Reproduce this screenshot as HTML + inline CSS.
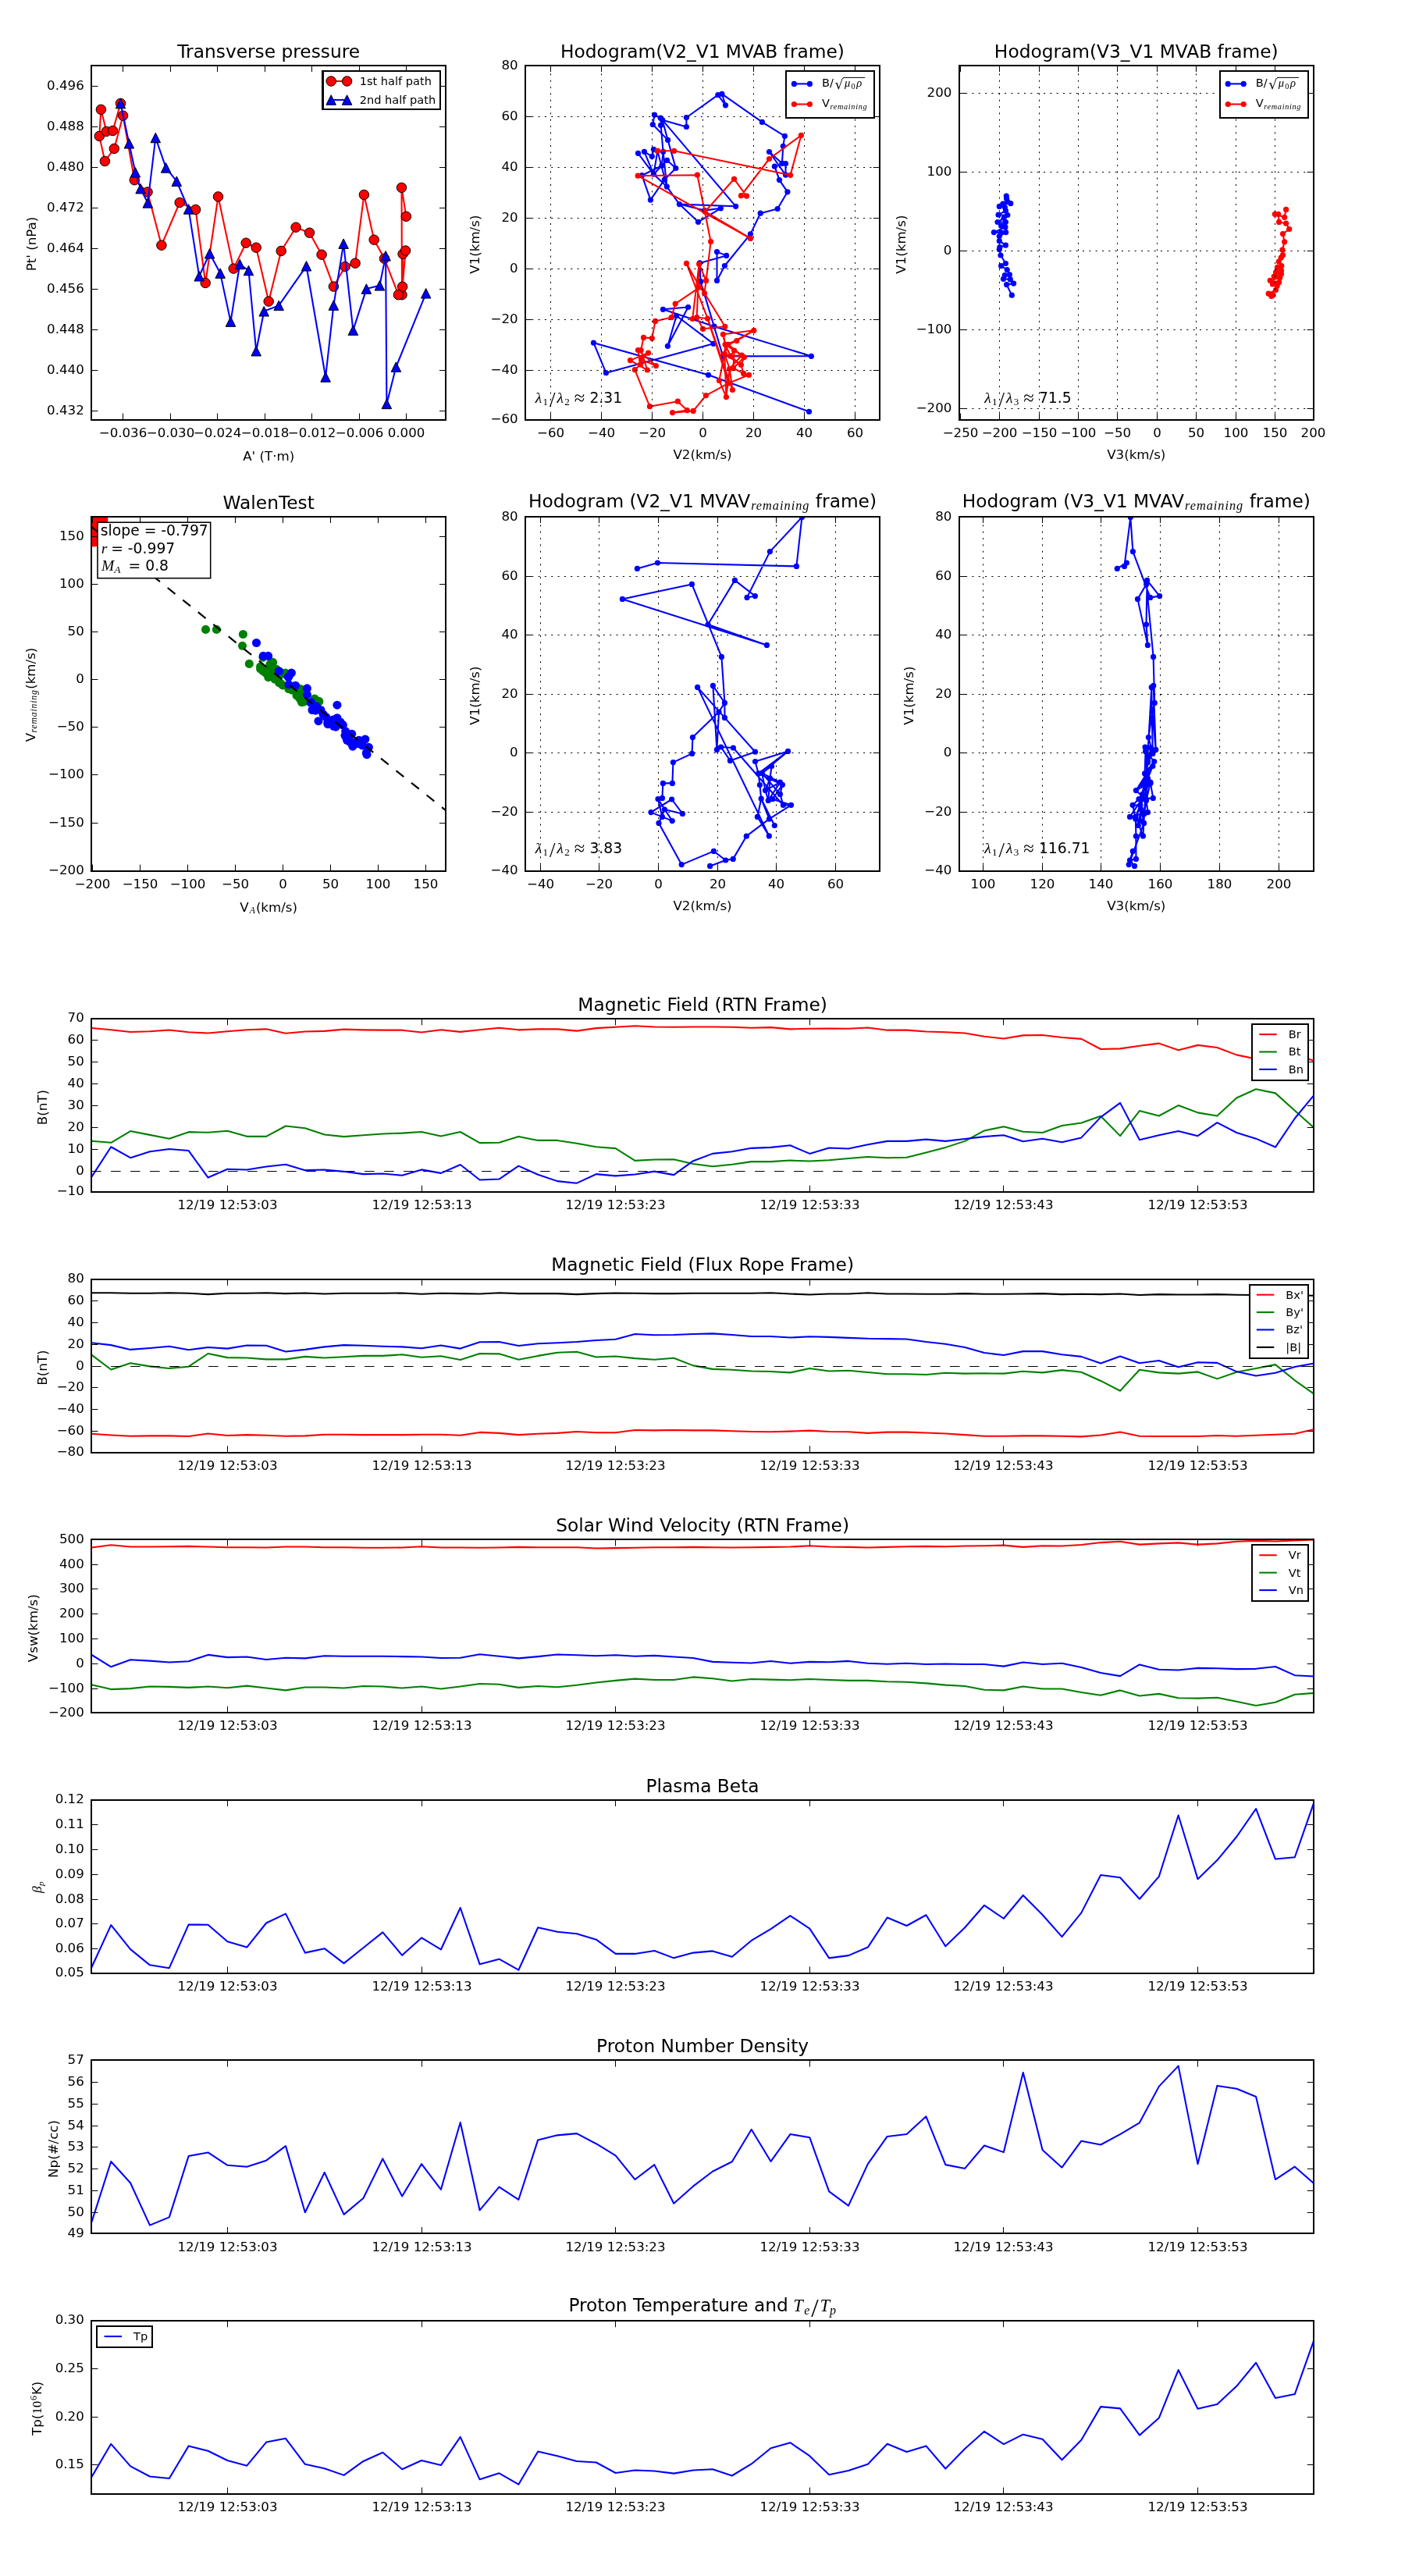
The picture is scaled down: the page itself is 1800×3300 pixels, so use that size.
<!DOCTYPE html>
<html><head><meta charset="utf-8"><title>Flux rope analysis</title>
<style>
html,body{margin:0;padding:0;background:#fff}
svg{display:block;will-change:transform}
text{font-family:"DejaVu Sans", "Liberation Sans", sans-serif;fill:#000}
.t{font-size:16.67px}
.l{font-size:14.58px}
.ti{font-size:23.3px}
.m{font-family:"Liberation Serif", "DejaVu Serif", serif;font-style:italic}
.mr{font-family:"Liberation Serif", "DejaVu Serif", serif;font-style:normal}
.gr{stroke:#000;stroke-width:1.0;stroke-dasharray:2.08 6.25;fill:none}
</style></head><body>
<svg xmlns="http://www.w3.org/2000/svg" width="1800" height="3300" viewBox="0 0 1800 3300">
<rect width="1800" height="3300" fill="#fff"/>
<clipPath id="c903"><rect x="117.1" y="83.85" width="454.2" height="454.05"/></clipPath>
<g clip-path="url(#c903)">
<path d="M520.4 277.3L514.5 240.4L515 377.7L516.1 325.3L519.6 321.1L515.6 367.3L510.4 377.7L492.5 331.3L479.2 307.2L466.4 249.5L455.1 337.2L442.1 341.5L427.4 367.1L412.1 326.2L396.5 298.2L379.1 291.2L360.2 321.5L344.2 386.1L328.2 317.2L315.2 311.2L299.2 344.1L279.5 251.9L263.2 362.5L250.6 268.5L230.2 259.5L206.9 314.2L189 246L172.3 230.7L157.6 148.2L146.3 190.4L134.4 206.5L127.3 174.4L129.4 140.3L136.4 168.4L144.5 167.5L154.5 132.4" fill="none" stroke="#ff0000" stroke-width="2.08" stroke-linejoin="round" />
<g fill="#ff0000" stroke="#000" stroke-width="1.0"><circle cx="520.4" cy="277.3" r="6.25"/><circle cx="514.5" cy="240.4" r="6.25"/><circle cx="515" cy="377.7" r="6.25"/><circle cx="516.1" cy="325.3" r="6.25"/><circle cx="519.6" cy="321.1" r="6.25"/><circle cx="515.6" cy="367.3" r="6.25"/><circle cx="510.4" cy="377.7" r="6.25"/><circle cx="492.5" cy="331.3" r="6.25"/><circle cx="479.2" cy="307.2" r="6.25"/><circle cx="466.4" cy="249.5" r="6.25"/><circle cx="455.1" cy="337.2" r="6.25"/><circle cx="442.1" cy="341.5" r="6.25"/><circle cx="427.4" cy="367.1" r="6.25"/><circle cx="412.1" cy="326.2" r="6.25"/><circle cx="396.5" cy="298.2" r="6.25"/><circle cx="379.1" cy="291.2" r="6.25"/><circle cx="360.2" cy="321.5" r="6.25"/><circle cx="344.2" cy="386.1" r="6.25"/><circle cx="328.2" cy="317.2" r="6.25"/><circle cx="315.2" cy="311.2" r="6.25"/><circle cx="299.2" cy="344.1" r="6.25"/><circle cx="279.5" cy="251.9" r="6.25"/><circle cx="263.2" cy="362.5" r="6.25"/><circle cx="250.6" cy="268.5" r="6.25"/><circle cx="230.2" cy="259.5" r="6.25"/><circle cx="206.9" cy="314.2" r="6.25"/><circle cx="189" cy="246" r="6.25"/><circle cx="172.3" cy="230.7" r="6.25"/><circle cx="157.6" cy="148.2" r="6.25"/><circle cx="146.3" cy="190.4" r="6.25"/><circle cx="134.4" cy="206.5" r="6.25"/><circle cx="127.3" cy="174.4" r="6.25"/><circle cx="129.4" cy="140.3" r="6.25"/><circle cx="136.4" cy="168.4" r="6.25"/><circle cx="144.5" cy="167.5" r="6.25"/><circle cx="154.5" cy="132.4" r="6.25"/></g>
<path d="M154.5 132.6L165.4 183.8L173.4 220.8L180.1 241.7L189.3 259.9L199.3 176.5L212.6 214.9L226.3 232.2L241.6 267.9L255.2 353.8L268.6 324.8L282.2 350.1L295.5 412.1L307.2 338.5L318.5 346.5L328.2 449.7L338.2 398.8L357.2 391.4L392.5 340.8L417.1 483L427.4 391.1L440.1 312.2L452.4 423.1L469.4 370.1L486.4 365.8L494.1 327.8L495.4 517.4L507.4 470.1L545.7 375.8" fill="none" stroke="#0000ff" stroke-width="2.08" stroke-linejoin="round" />
<g fill="#0000ff" stroke="#000" stroke-width="1.0" stroke-linejoin="miter"><path d="M154.5 126.35L148.25 138.85L160.75 138.85Z"/><path d="M165.4 177.55L159.15 190.05L171.65 190.05Z"/><path d="M173.4 214.55L167.15 227.05L179.65 227.05Z"/><path d="M180.1 235.45L173.85 247.95L186.35 247.95Z"/><path d="M189.3 253.65L183.05 266.15L195.55 266.15Z"/><path d="M199.3 170.25L193.05 182.75L205.55 182.75Z"/><path d="M212.6 208.65L206.35 221.15L218.85 221.15Z"/><path d="M226.3 225.95L220.05 238.45L232.55 238.45Z"/><path d="M241.6 261.65L235.35 274.15L247.85 274.15Z"/><path d="M255.2 347.55L248.95 360.05L261.45 360.05Z"/><path d="M268.6 318.55L262.35 331.05L274.85 331.05Z"/><path d="M282.2 343.85L275.95 356.35L288.45 356.35Z"/><path d="M295.5 405.85L289.25 418.35L301.75 418.35Z"/><path d="M307.2 332.25L300.95 344.75L313.45 344.75Z"/><path d="M318.5 340.25L312.25 352.75L324.75 352.75Z"/><path d="M328.2 443.45L321.95 455.95L334.45 455.95Z"/><path d="M338.2 392.55L331.95 405.05L344.45 405.05Z"/><path d="M357.2 385.15L350.95 397.65L363.45 397.65Z"/><path d="M392.5 334.55L386.25 347.05L398.75 347.05Z"/><path d="M417.1 476.75L410.85 489.25L423.35 489.25Z"/><path d="M427.4 384.85L421.15 397.35L433.65 397.35Z"/><path d="M440.1 305.95L433.85 318.45L446.35 318.45Z"/><path d="M452.4 416.85L446.15 429.35L458.65 429.35Z"/><path d="M469.4 363.85L463.15 376.35L475.65 376.35Z"/><path d="M486.4 359.55L480.15 372.05L492.65 372.05Z"/><path d="M494.1 321.55L487.85 334.05L500.35 334.05Z"/><path d="M495.4 511.15L489.15 523.65L501.65 523.65Z"/><path d="M507.4 463.85L501.15 476.35L513.65 476.35Z"/><path d="M545.7 369.55L539.45 382.05L551.95 382.05Z"/></g>
</g>
<path d="M157.5 537.9v-8.33M157.5 83.85v8.33M218.5 537.9v-8.33M218.5 83.85v8.33M278.5 537.9v-8.33M278.5 83.85v8.33M339.5 537.9v-8.33M339.5 83.85v8.33M399.5 537.9v-8.33M399.5 83.85v8.33M460.5 537.9v-8.33M460.5 83.85v8.33M520.5 537.9v-8.33M520.5 83.85v8.33" stroke="#000" stroke-width="1.0" fill="none"/>
<text x="157.5" y="560.1" text-anchor="middle" class="t">−0.036</text>
<text x="218.5" y="560.1" text-anchor="middle" class="t">−0.030</text>
<text x="278.5" y="560.1" text-anchor="middle" class="t">−0.024</text>
<text x="339.5" y="560.1" text-anchor="middle" class="t">−0.018</text>
<text x="399.5" y="560.1" text-anchor="middle" class="t">−0.012</text>
<text x="460.5" y="560.1" text-anchor="middle" class="t">−0.006</text>
<text x="520.5" y="560.1" text-anchor="middle" class="t">0.000</text>
<path d="M117.1 526.5h8.33M571.3 526.5h-8.33M117.1 474.5h8.33M571.3 474.5h-8.33M117.1 422.5h8.33M571.3 422.5h-8.33M117.1 370.5h8.33M571.3 370.5h-8.33M117.1 318.5h8.33M571.3 318.5h-8.33M117.1 266.5h8.33M571.3 266.5h-8.33M117.1 214.5h8.33M571.3 214.5h-8.33M117.1 162.5h8.33M571.3 162.5h-8.33M117.1 110.5h8.33M571.3 110.5h-8.33" stroke="#000" stroke-width="1.0" fill="none"/>
<text x="107.8" y="531.1" text-anchor="end" class="t">0.432</text>
<text x="107.8" y="479.1" text-anchor="end" class="t">0.440</text>
<text x="107.8" y="427.1" text-anchor="end" class="t">0.448</text>
<text x="107.8" y="375.1" text-anchor="end" class="t">0.456</text>
<text x="107.8" y="323.1" text-anchor="end" class="t">0.464</text>
<text x="107.8" y="271.1" text-anchor="end" class="t">0.472</text>
<text x="107.8" y="219.1" text-anchor="end" class="t">0.480</text>
<text x="107.8" y="167.1" text-anchor="end" class="t">0.488</text>
<text x="107.8" y="115.1" text-anchor="end" class="t">0.496</text>
<rect x="117" y="84" width="454" height="454" fill="none" stroke="#000" stroke-width="2"/>
<text x="344.2" y="73.65" text-anchor="middle" class="ti">Transverse pressure</text>
<text x="344.2" y="590.4" text-anchor="middle" class="t">A' (T·m)</text>
<text transform="translate(45.9 312.48) rotate(-90)" text-anchor="middle" class="t">Pt' (nPa)</text>
<rect x="413" y="91" width="151" height="49" fill="#fff" stroke="#000" stroke-width="2"/>
<path d="M423.6 104L444.4 104" fill="none" stroke="#ff0000" stroke-width="2.08" stroke-linejoin="round" />
<g fill="#ff0000" stroke="#000" stroke-width="1.0"><circle cx="423.6" cy="104" r="6.25"/><circle cx="444.4" cy="104" r="6.25"/></g>
<text x="459.3" y="108.9" class="l" textLength="93.86">1st half path</text>
<path d="M423.6 127.7L444.4 127.7" fill="none" stroke="#0000ff" stroke-width="2.08" stroke-linejoin="round" />
<g fill="#0000ff" stroke="#000" stroke-width="1.0" stroke-linejoin="miter"><path d="M423.6 121.45L417.35 133.95L429.85 133.95Z"/><path d="M444.4 121.45L438.15 133.95L450.65 133.95Z"/></g>
<text x="459.3" y="131.9" class="l" textLength="99.05">2nd half path</text>
<rect x="414" y="91" width="150" height="49" fill="#fff" stroke="#000" stroke-width="2"/>
<path d="M424.18 104L444.59 104" fill="none" stroke="#ff0000" stroke-width="2.08" stroke-linejoin="round" />
<g fill="#ff0000" stroke="#000" stroke-width="1.0"><circle cx="424.18" cy="104" r="6.25"/><circle cx="444.59" cy="104" r="6.25"/></g>
<text x="460.63" y="109.3" class="l">1st half path</text>
<path d="M424.18 128L444.59 128" fill="none" stroke="#0000ff" stroke-width="2.08" stroke-linejoin="round" />
<g fill="#0000ff" stroke="#000" stroke-width="1.0" stroke-linejoin="miter"><path d="M424.18 121.75L417.93 134.25L430.43 134.25Z"/><path d="M444.59 121.75L438.34 134.25L450.84 134.25Z"/></g>
<text x="460.63" y="133.3" class="l">2nd half path</text>
<clipPath id="c4794"><rect x="672.9" y="83.85" width="454.2" height="454.05"/></clipPath>
<g clip-path="url(#c4794)">
<path d="M1036.5 527.3L907.5 480.3L760.5 439.2L776.4 477.7L914 440.3L866.6 404.5L855.4 443.3L881.6 393.5L849.4 396.3L915 418.2L1039.4 456.3L926.2 456.4L897.6 360.6L896.4 336.9L930.6 327.4L918.5 322.6L918.5 359.4L928.4 340.5L961.4 299.9L974.2 273.2L996.1 267.5L1008.9 245.8L998.5 230.6L992.4 213.2L1006.5 209.5L1006.5 224.1L985.5 194.5L1001.9 209.3L1003.3 187.3L1005.4 174.3L976.4 156.4L924.9 120.3L929.5 134.8L919.8 121.7L879.4 150.5L879.4 162.5L848.6 153.7L942.6 264.3L870.4 261.6L902.7 269.6L923.4 266.8L894.5 284.3L870.4 261.6L854.3 239.1L837.4 223.2L817.5 196.3" fill="none" stroke="#0000ff" stroke-width="2.08" stroke-linejoin="round" />
<path d="M848.6 153.7L846.1 151.1L838.5 147.2L836.3 159.5L855.6 179.4L865.8 215.5L854.6 205.3L847.9 212.2" fill="none" stroke="#0000ff" stroke-width="2.08" stroke-linejoin="round" />
<path d="M848.6 153.7L855.6 179.4" fill="none" stroke="#0000ff" stroke-width="2.08" stroke-linejoin="round" />
<path d="M846.6 160.4L849.6 194.3L847.9 212.2L837.4 223.2L825.4 194.3L835.3 200.3L837.4 191.3" fill="none" stroke="#0000ff" stroke-width="2.08" stroke-linejoin="round" />
<path d="M849.6 194.3L854.3 239.1L842.4 193.3L837.4 223.2" fill="none" stroke="#0000ff" stroke-width="2.08" stroke-linejoin="round" />
<path d="M847.9 212.2L822.4 224.7L833.4 256.1L851.3 230.2L865.8 215.5" fill="none" stroke="#0000ff" stroke-width="2.08" stroke-linejoin="round" />
<g fill="#0000ff"><circle cx="838.5" cy="147.2" r="3.6"/><circle cx="846.1" cy="151.1" r="3.6"/><circle cx="848.6" cy="153.7" r="3.6"/><circle cx="836.3" cy="159.5" r="3.6"/><circle cx="846.6" cy="160.4" r="3.6"/><circle cx="879.4" cy="150.5" r="3.6"/><circle cx="879.4" cy="162.5" r="3.6"/><circle cx="855.6" cy="179.4" r="3.6"/><circle cx="837.4" cy="191.3" r="3.6"/><circle cx="825.4" cy="194.3" r="3.6"/><circle cx="817.5" cy="196.3" r="3.6"/><circle cx="835.3" cy="200.3" r="3.6"/><circle cx="849.6" cy="194.3" r="3.6"/><circle cx="842.4" cy="193.3" r="3.6"/><circle cx="854.6" cy="205.3" r="3.6"/><circle cx="847.9" cy="212.2" r="3.6"/><circle cx="865.8" cy="215.5" r="3.6"/><circle cx="837.4" cy="223.2" r="3.6"/><circle cx="822.4" cy="224.7" r="3.6"/><circle cx="854.3" cy="239.1" r="3.6"/><circle cx="833.4" cy="256.1" r="3.6"/><circle cx="870.4" cy="261.6" r="3.6"/><circle cx="894.5" cy="284.3" r="3.6"/><circle cx="851.3" cy="230.2" r="3.6"/><circle cx="942.6" cy="264.3" r="3.6"/><circle cx="923.4" cy="266.8" r="3.6"/><circle cx="902.7" cy="269.6" r="3.6"/><circle cx="919.8" cy="121.7" r="3.6"/><circle cx="924.9" cy="120.3" r="3.6"/><circle cx="929.5" cy="134.8" r="3.6"/><circle cx="976.4" cy="156.4" r="3.6"/><circle cx="1005.4" cy="174.3" r="3.6"/><circle cx="1003.3" cy="187.3" r="3.6"/><circle cx="985.5" cy="194.5" r="3.6"/><circle cx="1001.9" cy="209.3" r="3.6"/><circle cx="1006.5" cy="209.5" r="3.6"/><circle cx="992.4" cy="213.2" r="3.6"/><circle cx="1006.5" cy="224.1" r="3.6"/><circle cx="998.5" cy="230.6" r="3.6"/><circle cx="1008.9" cy="245.8" r="3.6"/><circle cx="996.1" cy="267.5" r="3.6"/><circle cx="974.2" cy="273.2" r="3.6"/><circle cx="961.4" cy="299.9" r="3.6"/><circle cx="918.5" cy="322.6" r="3.6"/><circle cx="930.6" cy="327.4" r="3.6"/><circle cx="928.4" cy="340.5" r="3.6"/><circle cx="918.5" cy="359.4" r="3.6"/><circle cx="1039.4" cy="456.3" r="3.6"/><circle cx="1036.5" cy="527.3" r="3.6"/><circle cx="926.2" cy="456.4" r="3.6"/><circle cx="915" cy="418.2" r="3.6"/><circle cx="760.5" cy="439.2" r="3.6"/><circle cx="776.4" cy="477.7" r="3.6"/><circle cx="849.4" cy="396.3" r="3.6"/><circle cx="881.6" cy="393.5" r="3.6"/><circle cx="866.6" cy="404.5" r="3.6"/><circle cx="855.4" cy="443.3" r="3.6"/><circle cx="914" cy="440.3" r="3.6"/><circle cx="907.5" cy="480.3" r="3.6"/><circle cx="896.4" cy="336.9" r="3.6"/><circle cx="897.6" cy="360.6" r="3.6"/></g>
<path d="M842.4 193.3L863.6 193.3L1012.6 224.3L1026.4 173.4L985.5 203.5L949.4 250.7L956.5 251.2L940.5 229.3L903.2 271.2L961.4 305.4L817.2 225.2L893.4 224.2L910.6 309.5L904.6 359.4L902.5 375.5L928.8 418.3L900.5 421.3L892.7 406.5L906.6 408.2L879.5 337.4L896.6 367.9L865.2 389.1L860.3 406.6L839.5 411.4L835.3 433.3L824.5 432.4L821.1 448.7L829.3 474L807.4 461.6L830.5 452.1L821.6 460.6L840.4 468.6L817.4 448.5L820.5 466.9L813.3 473.7L832.4 520.7L868.3 514.2L880.3 525.6L861.5 528.6L888.2 526.4L904.4 506.6L933.4 490.9L959.5 480.3L952.6 478.4L939.5 471.7L934.7 472.5L930.4 508.6L921.4 487.5L928.3 453.3L929.1 441.3L926.4 428.3L965.8 423.3L943.8 436.6L932.8 441.3L940.6 449L950.2 455.2L953.4 457.6L949.4 467.5L952.6 478.4" fill="none" stroke="#ff0000" stroke-width="2.08" stroke-linejoin="round" />
<path d="M961.4 305.4L903.2 271.2" fill="none" stroke="#ff0000" stroke-width="2.08" stroke-linejoin="round" />
<path d="M904.6 359.4L895.6 338.3L887.2 408.5L892.7 406.5L895.6 338.3" fill="none" stroke="#ff0000" stroke-width="2.08" stroke-linejoin="round" />
<path d="M896.6 367.9L902.5 375.5" fill="none" stroke="#ff0000" stroke-width="2.08" stroke-linejoin="round" />
<path d="M906.6 408.2L938.4 499.5L934.7 472.5" fill="none" stroke="#ff0000" stroke-width="2.08" stroke-linejoin="round" />
<path d="M906.6 408.2L933.4 490.9" fill="none" stroke="#ff0000" stroke-width="2.08" stroke-linejoin="round" />
<path d="M930.4 508.6L928.3 453.3L935.8 456.2L940.6 449" fill="none" stroke="#ff0000" stroke-width="2.08" stroke-linejoin="round" />
<path d="M943.8 436.6L929.1 441.3" fill="none" stroke="#ff0000" stroke-width="2.08" stroke-linejoin="round" />
<path d="M943.8 436.6L932.8 441.3L928.3 453.3L934.7 472.5" fill="none" stroke="#ff0000" stroke-width="2.08" stroke-linejoin="round" />
<path d="M929.1 441.3L935.8 456.2L949.4 467.5" fill="none" stroke="#ff0000" stroke-width="2.08" stroke-linejoin="round" />
<path d="M940.6 449L939.5 471.7L953.4 457.6" fill="none" stroke="#ff0000" stroke-width="2.08" stroke-linejoin="round" />
<path d="M926.4 428.3L929.1 441.3L940.6 449" fill="none" stroke="#ff0000" stroke-width="2.08" stroke-linejoin="round" />
<path d="M932.8 441.3L950.2 455.2" fill="none" stroke="#ff0000" stroke-width="2.08" stroke-linejoin="round" />
<path d="M928.3 453.3L949.4 467.5" fill="none" stroke="#ff0000" stroke-width="2.08" stroke-linejoin="round" />
<path d="M935.8 456.2L950.2 455.2L934.7 472.5" fill="none" stroke="#ff0000" stroke-width="2.08" stroke-linejoin="round" />
<path d="M965.8 423.3L932.8 441.3" fill="none" stroke="#ff0000" stroke-width="2.08" stroke-linejoin="round" />
<g fill="#ff0000"><circle cx="842.4" cy="193.3" r="3.6"/><circle cx="863.6" cy="193.3" r="3.6"/><circle cx="817.2" cy="225.2" r="3.6"/><circle cx="893.4" cy="224.2" r="3.6"/><circle cx="1026.4" cy="173.4" r="3.6"/><circle cx="985.5" cy="203.5" r="3.6"/><circle cx="1012.6" cy="224.3" r="3.6"/><circle cx="940.5" cy="229.3" r="3.6"/><circle cx="949.4" cy="250.7" r="3.6"/><circle cx="956.5" cy="251.2" r="3.6"/><circle cx="961.4" cy="305.4" r="3.6"/><circle cx="910.6" cy="309.5" r="3.6"/><circle cx="903.2" cy="271.2" r="3.6"/><circle cx="879.5" cy="337.4" r="3.6"/><circle cx="895.6" cy="338.3" r="3.6"/><circle cx="904.6" cy="359.4" r="3.6"/><circle cx="896.6" cy="367.9" r="3.6"/><circle cx="902.5" cy="375.5" r="3.6"/><circle cx="865.2" cy="389.1" r="3.6"/><circle cx="860.3" cy="406.6" r="3.6"/><circle cx="839.5" cy="411.4" r="3.6"/><circle cx="835.3" cy="433.3" r="3.6"/><circle cx="824.5" cy="432.4" r="3.6"/><circle cx="887.2" cy="408.5" r="3.6"/><circle cx="892.7" cy="406.5" r="3.6"/><circle cx="900.5" cy="421.3" r="3.6"/><circle cx="906.6" cy="408.2" r="3.6"/><circle cx="817.4" cy="448.5" r="3.6"/><circle cx="821.1" cy="448.7" r="3.6"/><circle cx="830.5" cy="452.1" r="3.6"/><circle cx="807.4" cy="461.6" r="3.6"/><circle cx="821.6" cy="460.6" r="3.6"/><circle cx="820.5" cy="466.9" r="3.6"/><circle cx="840.4" cy="468.6" r="3.6"/><circle cx="813.3" cy="473.7" r="3.6"/><circle cx="829.3" cy="474" r="3.6"/><circle cx="832.4" cy="520.7" r="3.6"/><circle cx="868.3" cy="514.2" r="3.6"/><circle cx="880.3" cy="525.6" r="3.6"/><circle cx="861.5" cy="528.6" r="3.6"/><circle cx="888.2" cy="526.4" r="3.6"/><circle cx="904.4" cy="506.6" r="3.6"/><circle cx="928.8" cy="418.3" r="3.6"/><circle cx="965.8" cy="423.3" r="3.6"/><circle cx="926.4" cy="428.3" r="3.6"/><circle cx="943.8" cy="436.6" r="3.6"/><circle cx="929.1" cy="441.3" r="3.6"/><circle cx="932.8" cy="441.3" r="3.6"/><circle cx="940.6" cy="449" r="3.6"/><circle cx="928.3" cy="453.3" r="3.6"/><circle cx="935.8" cy="456.2" r="3.6"/><circle cx="950.2" cy="455.2" r="3.6"/><circle cx="953.4" cy="457.6" r="3.6"/><circle cx="949.4" cy="467.5" r="3.6"/><circle cx="934.7" cy="472.5" r="3.6"/><circle cx="939.5" cy="471.7" r="3.6"/><circle cx="952.6" cy="478.4" r="3.6"/><circle cx="959.5" cy="480.3" r="3.6"/><circle cx="921.4" cy="487.5" r="3.6"/><circle cx="933.4" cy="490.9" r="3.6"/><circle cx="938.4" cy="499.5" r="3.6"/><circle cx="930.4" cy="508.6" r="3.6"/></g>
</g>
<path d="M705.5 537.9v-8.33M705.5 83.85v8.33M770.5 537.9v-8.33M770.5 83.85v8.33M835.5 537.9v-8.33M835.5 83.85v8.33M900.5 537.9v-8.33M900.5 83.85v8.33M965.5 537.9v-8.33M965.5 83.85v8.33M1030.5 537.9v-8.33M1030.5 83.85v8.33M1095.5 537.9v-8.33M1095.5 83.85v8.33" stroke="#000" stroke-width="1.0" fill="none"/>
<path d="M705.5 537.9V83.85M770.5 537.9V83.85M835.5 537.9V83.85M900.5 537.9V83.85M965.5 537.9V83.85M1030.5 537.9V83.85M1095.5 537.9V83.85" class="gr" clip-path="url(#c4794)"/>
<text x="705.5" y="560.1" text-anchor="middle" class="t">−60</text>
<text x="770.5" y="560.1" text-anchor="middle" class="t">−40</text>
<text x="835.5" y="560.1" text-anchor="middle" class="t">−20</text>
<text x="900.5" y="560.1" text-anchor="middle" class="t">0</text>
<text x="965.5" y="560.1" text-anchor="middle" class="t">20</text>
<text x="1030.5" y="560.1" text-anchor="middle" class="t">40</text>
<text x="1095.5" y="560.1" text-anchor="middle" class="t">60</text>
<path d="M672.9 537.5h8.33M1127.1 537.5h-8.33M672.9 474.5h8.33M1127.1 474.5h-8.33M672.9 409.5h8.33M1127.1 409.5h-8.33M672.9 344.5h8.33M1127.1 344.5h-8.33M672.9 279.5h8.33M1127.1 279.5h-8.33M672.9 214.5h8.33M1127.1 214.5h-8.33M672.9 149.5h8.33M1127.1 149.5h-8.33M672.9 84.5h8.33M1127.1 84.5h-8.33" stroke="#000" stroke-width="1.0" fill="none"/>
<path d="M672.9 474.5H1127.1M672.9 409.5H1127.1M672.9 344.5H1127.1M672.9 279.5H1127.1M672.9 214.5H1127.1M672.9 149.5H1127.1" class="gr" clip-path="url(#c4794)"/>
<text x="663.6" y="542.1" text-anchor="end" class="t">−60</text>
<text x="663.6" y="479.1" text-anchor="end" class="t">−40</text>
<text x="663.6" y="414.1" text-anchor="end" class="t">−20</text>
<text x="663.6" y="349.1" text-anchor="end" class="t">0</text>
<text x="663.6" y="284.1" text-anchor="end" class="t">20</text>
<text x="663.6" y="219.1" text-anchor="end" class="t">40</text>
<text x="663.6" y="154.1" text-anchor="end" class="t">60</text>
<text x="663.6" y="89.1" text-anchor="end" class="t">80</text>
<rect x="673" y="84" width="454" height="454" fill="none" stroke="#000" stroke-width="2"/>
<text x="900" y="73.65" text-anchor="middle" class="ti">Hodogram(V2_V1 MVAB frame)</text>
<text x="900" y="588.2" text-anchor="middle" class="t">V2(km/s)</text>
<text transform="translate(614 313.18) rotate(-90)" text-anchor="middle" class="t">V1(km/s)</text>
<rect x="1007" y="91" width="113" height="60" fill="#fff" stroke="#000" stroke-width="2"/>
<path d="M1017.4 107.4L1037.4 107.4" fill="none" stroke="#0000ff" stroke-width="2.08" stroke-linejoin="round" />
<g fill="#0000ff"><circle cx="1017.4" cy="107.4" r="3.6"/><circle cx="1037.4" cy="107.4" r="3.6"/></g>
<path d="M1017.4 133.5L1037.4 133.5" fill="none" stroke="#ff0000" stroke-width="2.08" stroke-linejoin="round" />
<g fill="#ff0000"><circle cx="1017.4" cy="133.5" r="3.6"/><circle cx="1037.4" cy="133.5" r="3.6"/></g>
<text x="1052.9" y="110.9" class="l">B/</text>
<text x="1069.5" y="113.5" font-size="17.5">√</text>
<path d="M1080.2 99.4H1108.1" stroke="#000" stroke-width="1" fill="none"/>
<text x="1082" y="110.9" class="l m">μ<tspan class="mr" font-size="10.2" dy="2.6" dx="1.2">0</tspan><tspan dy="-2.6" dx="1.6">ρ</tspan></text>
<text x="1052.9" y="137.3" class="l">V<tspan class="m" font-size="10.2" dy="2.5" dx="0.6" letter-spacing="0.7">remaining</tspan></text>
<g font-size="18.75"><text x="685.7" y="515.9" class="m" font-size="19.5">λ</text><text x="695.6" y="519.1" class="mr" font-size="13.1">1</text><text x="703.9" y="521.2" class="mr" font-size="27">/</text><text x="713.6" y="515.9" class="m" font-size="19.5">λ</text><text x="723.2" y="519.1" class="mr" font-size="13.1">2</text><text x="735.8" y="518.2" class="mr" font-size="24.6">≈</text><text x="755.4" y="515.9">2.31</text></g>
<clipPath id="c8684"><rect x="1228.7" y="83.85" width="454.2" height="454.05"/></clipPath>
<g clip-path="url(#c8684)">
<path d="M1289.3 251L1289.6 254.8L1290.8 258.3L1294.8 260.6L1284.9 261.2L1280.3 264.4L1287.3 265.3L1288.4 269.9L1279.1 275.2L1290.8 275.5L1286.1 279.3L1278 284.5L1288.4 284.5L1282.6 289.2L1287.9 290.9L1273.3 297.6L1282.6 297.9L1288.7 297.6L1280.3 302.5L1280.3 308.7L1288.4 314.2L1280.9 316.5L1280.3 319.4L1282 327L1288.4 337.5L1282.6 340.7L1290.2 345.6L1293.4 351.8L1287.3 352.6L1285.5 357.3L1294.3 357.9L1298.6 363.1L1289.6 364.6L1296.3 378.2" fill="none" stroke="#0000ff" stroke-width="2.08" stroke-linejoin="round" />
<g fill="#0000ff"><circle cx="1289.3" cy="251" r="3.6"/><circle cx="1289.6" cy="254.8" r="3.6"/><circle cx="1290.8" cy="258.3" r="3.6"/><circle cx="1294.8" cy="260.6" r="3.6"/><circle cx="1284.9" cy="261.2" r="3.6"/><circle cx="1280.3" cy="264.4" r="3.6"/><circle cx="1287.3" cy="265.3" r="3.6"/><circle cx="1288.4" cy="269.9" r="3.6"/><circle cx="1279.1" cy="275.2" r="3.6"/><circle cx="1290.8" cy="275.5" r="3.6"/><circle cx="1286.1" cy="279.3" r="3.6"/><circle cx="1278" cy="284.5" r="3.6"/><circle cx="1288.4" cy="284.5" r="3.6"/><circle cx="1282.6" cy="289.2" r="3.6"/><circle cx="1287.9" cy="290.9" r="3.6"/><circle cx="1273.3" cy="297.6" r="3.6"/><circle cx="1282.6" cy="297.9" r="3.6"/><circle cx="1288.7" cy="297.6" r="3.6"/><circle cx="1280.3" cy="302.5" r="3.6"/><circle cx="1280.3" cy="308.7" r="3.6"/><circle cx="1288.4" cy="314.2" r="3.6"/><circle cx="1280.9" cy="316.5" r="3.6"/><circle cx="1280.3" cy="319.4" r="3.6"/><circle cx="1282" cy="327" r="3.6"/><circle cx="1288.4" cy="337.5" r="3.6"/><circle cx="1282.6" cy="340.7" r="3.6"/><circle cx="1290.2" cy="345.6" r="3.6"/><circle cx="1293.4" cy="351.8" r="3.6"/><circle cx="1287.3" cy="352.6" r="3.6"/><circle cx="1285.5" cy="357.3" r="3.6"/><circle cx="1294.3" cy="357.9" r="3.6"/><circle cx="1298.6" cy="363.1" r="3.6"/><circle cx="1289.6" cy="364.6" r="3.6"/><circle cx="1296.3" cy="378.2" r="3.6"/></g>
<path d="M1647.6 268.4L1645.6 278.3L1633.3 274.3L1637.7 274.3L1638.6 284.4L1647.6 286.2L1651.7 293.5L1643.5 299.6L1645.6 309.8L1642.9 320L1643.5 326.7L1641.2 330.2L1638.3 335.1L1641.8 340.6L1636.5 342.4L1641.5 346.5L1634.5 348.8L1641.5 351.1L1632.2 354L1639.7 355.8L1627.2 359.3L1638.6 361.6L1630.4 363.9L1636.2 366.3L1634.5 371.5L1625.2 376.2L1631 377.9L1628.8 379.3" fill="none" stroke="#ff0000" stroke-width="2.08" stroke-linejoin="round" />
<g fill="#ff0000"><circle cx="1647.6" cy="268.4" r="3.6"/><circle cx="1645.6" cy="278.3" r="3.6"/><circle cx="1633.3" cy="274.3" r="3.6"/><circle cx="1637.7" cy="274.3" r="3.6"/><circle cx="1638.6" cy="284.4" r="3.6"/><circle cx="1647.6" cy="286.2" r="3.6"/><circle cx="1651.7" cy="293.5" r="3.6"/><circle cx="1643.5" cy="299.6" r="3.6"/><circle cx="1645.6" cy="309.8" r="3.6"/><circle cx="1642.9" cy="320" r="3.6"/><circle cx="1643.5" cy="326.7" r="3.6"/><circle cx="1641.2" cy="330.2" r="3.6"/><circle cx="1638.3" cy="335.1" r="3.6"/><circle cx="1641.8" cy="340.6" r="3.6"/><circle cx="1636.5" cy="342.4" r="3.6"/><circle cx="1641.5" cy="346.5" r="3.6"/><circle cx="1634.5" cy="348.8" r="3.6"/><circle cx="1641.5" cy="351.1" r="3.6"/><circle cx="1632.2" cy="354" r="3.6"/><circle cx="1639.7" cy="355.8" r="3.6"/><circle cx="1627.2" cy="359.3" r="3.6"/><circle cx="1638.6" cy="361.6" r="3.6"/><circle cx="1630.4" cy="363.9" r="3.6"/><circle cx="1636.2" cy="366.3" r="3.6"/><circle cx="1634.5" cy="371.5" r="3.6"/><circle cx="1625.2" cy="376.2" r="3.6"/><circle cx="1631" cy="377.9" r="3.6"/><circle cx="1628.8" cy="379.3" r="3.6"/></g>
</g>
<path d="M1230.5 537.9v-8.33M1230.5 83.85v8.33M1280.5 537.9v-8.33M1280.5 83.85v8.33M1331.5 537.9v-8.33M1331.5 83.85v8.33M1381.5 537.9v-8.33M1381.5 83.85v8.33M1431.5 537.9v-8.33M1431.5 83.85v8.33M1482.5 537.9v-8.33M1482.5 83.85v8.33M1532.5 537.9v-8.33M1532.5 83.85v8.33M1583.5 537.9v-8.33M1583.5 83.85v8.33M1633.5 537.9v-8.33M1633.5 83.85v8.33M1682.5 537.9v-8.33M1682.5 83.85v8.33" stroke="#000" stroke-width="1.0" fill="none"/>
<path d="M1280.5 537.9V83.85M1331.5 537.9V83.85M1381.5 537.9V83.85M1431.5 537.9V83.85M1482.5 537.9V83.85M1532.5 537.9V83.85M1583.5 537.9V83.85M1633.5 537.9V83.85" class="gr" clip-path="url(#c8684)"/>
<text x="1230.5" y="560.1" text-anchor="middle" class="t">−250</text>
<text x="1280.5" y="560.1" text-anchor="middle" class="t">−200</text>
<text x="1331.5" y="560.1" text-anchor="middle" class="t">−150</text>
<text x="1381.5" y="560.1" text-anchor="middle" class="t">−100</text>
<text x="1431.5" y="560.1" text-anchor="middle" class="t">−50</text>
<text x="1482.5" y="560.1" text-anchor="middle" class="t">0</text>
<text x="1532.5" y="560.1" text-anchor="middle" class="t">50</text>
<text x="1583.5" y="560.1" text-anchor="middle" class="t">100</text>
<text x="1633.5" y="560.1" text-anchor="middle" class="t">150</text>
<text x="1682.5" y="560.1" text-anchor="middle" class="t">200</text>
<path d="M1228.7 523.5h8.33M1682.9 523.5h-8.33M1228.7 422.5h8.33M1682.9 422.5h-8.33M1228.7 321.5h8.33M1682.9 321.5h-8.33M1228.7 220.5h8.33M1682.9 220.5h-8.33M1228.7 119.5h8.33M1682.9 119.5h-8.33" stroke="#000" stroke-width="1.0" fill="none"/>
<path d="M1228.7 523.5H1682.9M1228.7 422.5H1682.9M1228.7 321.5H1682.9M1228.7 220.5H1682.9M1228.7 119.5H1682.9" class="gr" clip-path="url(#c8684)"/>
<text x="1219.4" y="528.1" text-anchor="end" class="t">−200</text>
<text x="1219.4" y="427.1" text-anchor="end" class="t">−100</text>
<text x="1219.4" y="326.1" text-anchor="end" class="t">0</text>
<text x="1219.4" y="225.1" text-anchor="end" class="t">100</text>
<text x="1219.4" y="124.1" text-anchor="end" class="t">200</text>
<rect x="1229" y="84" width="454" height="454" fill="none" stroke="#000" stroke-width="2"/>
<text x="1455.8" y="73.65" text-anchor="middle" class="ti">Hodogram(V3_V1 MVAB frame)</text>
<text x="1455.8" y="588.2" text-anchor="middle" class="t">V3(km/s)</text>
<text transform="translate(1159.9 313.18) rotate(-90)" text-anchor="middle" class="t">V1(km/s)</text>
<rect x="1563" y="91" width="113" height="60" fill="#fff" stroke="#000" stroke-width="2"/>
<path d="M1573.2 107.4L1593.2 107.4" fill="none" stroke="#0000ff" stroke-width="2.08" stroke-linejoin="round" />
<g fill="#0000ff"><circle cx="1573.2" cy="107.4" r="3.6"/><circle cx="1593.2" cy="107.4" r="3.6"/></g>
<path d="M1573.2 133.5L1593.2 133.5" fill="none" stroke="#ff0000" stroke-width="2.08" stroke-linejoin="round" />
<g fill="#ff0000"><circle cx="1573.2" cy="133.5" r="3.6"/><circle cx="1593.2" cy="133.5" r="3.6"/></g>
<text x="1608.7" y="110.9" class="l">B/</text>
<text x="1625.3" y="113.5" font-size="17.5">√</text>
<path d="M1636 99.4H1663.9" stroke="#000" stroke-width="1" fill="none"/>
<text x="1637.8" y="110.9" class="l m">μ<tspan class="mr" font-size="10.2" dy="2.6" dx="1.2">0</tspan><tspan dy="-2.6" dx="1.6">ρ</tspan></text>
<text x="1608.7" y="137.3" class="l">V<tspan class="m" font-size="10.2" dy="2.5" dx="0.6" letter-spacing="0.7">remaining</tspan></text>
<g font-size="18.75"><text x="1261.2" y="515.9" class="m" font-size="19.5">λ</text><text x="1271.1" y="519.1" class="mr" font-size="13.1">1</text><text x="1279.4" y="521.2" class="mr" font-size="27">/</text><text x="1289.1" y="515.9" class="m" font-size="19.5">λ</text><text x="1298.7" y="519.1" class="mr" font-size="13.1">3</text><text x="1311.3" y="518.2" class="mr" font-size="24.6">≈</text><text x="1330.9" y="515.9">71.5</text></g>
<clipPath id="c1481"><rect x="117.1" y="661.7" width="454.2" height="454.2"/></clipPath>
<g clip-path="url(#c1481)">
<g fill="#ff0000"><circle cx="121" cy="668" r="10.5"/><circle cx="127" cy="674" r="10.5"/><circle cx="124" cy="683" r="10.5"/><circle cx="120" cy="690" r="10.5"/><circle cx="128" cy="666" r="10.5"/></g>
<g fill="#008000"><circle cx="263.5" cy="806.4" r="5.55"/><circle cx="277.4" cy="806.4" r="5.55"/><circle cx="311.4" cy="812.5" r="5.55"/><circle cx="310.5" cy="827.3" r="5.55"/><circle cx="319.3" cy="850.4" r="5.55"/><circle cx="333.6" cy="854" r="5.55"/><circle cx="337" cy="859.7" r="5.55"/><circle cx="341.6" cy="862" r="5.55"/><circle cx="343.8" cy="867.7" r="5.55"/><circle cx="346.1" cy="850.6" r="5.55"/><circle cx="349.5" cy="848.3" r="5.55"/><circle cx="337" cy="842.1" r="5.55"/><circle cx="354.1" cy="857.4" r="5.55"/><circle cx="357.5" cy="874.5" r="5.55"/><circle cx="362" cy="877.9" r="5.55"/><circle cx="370" cy="882.5" r="5.55"/><circle cx="365.5" cy="862" r="5.55"/><circle cx="380.3" cy="889.3" r="5.55"/><circle cx="383.7" cy="893.9" r="5.55"/><circle cx="384.8" cy="882.5" r="5.55"/><circle cx="403" cy="895" r="5.55"/><circle cx="408.7" cy="898.4" r="5.55"/><circle cx="336.8" cy="857.1" r="5.55"/><circle cx="342.5" cy="862.8" r="5.55"/><circle cx="345.9" cy="852.5" r="5.55"/><circle cx="349.4" cy="849.1" r="5.55"/><circle cx="356.2" cy="868.5" r="5.55"/><circle cx="359.6" cy="875.3" r="5.55"/><circle cx="365.3" cy="863.9" r="5.55"/><circle cx="369.9" cy="882.1" r="5.55"/><circle cx="383.5" cy="885.6" r="5.55"/><circle cx="380.1" cy="891.2" r="5.55"/><circle cx="384.7" cy="895.8" r="5.55"/><circle cx="389.2" cy="899.2" r="5.55"/><circle cx="402.9" cy="896.9" r="5.55"/><circle cx="408.6" cy="899.2" r="5.55"/><circle cx="351" cy="862" r="5.55"/><circle cx="347" cy="858" r="5.55"/><circle cx="352" cy="870" r="5.55"/><circle cx="374" cy="884" r="5.55"/><circle cx="333.6" cy="856.9" r="5.55"/><circle cx="340.4" cy="862" r="5.55"/><circle cx="382.3" cy="889.3" r="5.55"/><circle cx="386.5" cy="899.6" r="5.55"/></g>
<g fill="#0000ff"><circle cx="328.5" cy="823.5" r="5.55"/><circle cx="337.2" cy="840.4" r="5.55"/><circle cx="343.6" cy="840.4" r="5.55"/><circle cx="357.5" cy="859.7" r="5.55"/><circle cx="373.4" cy="862" r="5.55"/><circle cx="370" cy="866.6" r="5.55"/><circle cx="370" cy="876.8" r="5.55"/><circle cx="378.6" cy="878.2" r="5.55"/><circle cx="393.4" cy="881.9" r="5.55"/><circle cx="393.4" cy="889.9" r="5.55"/><circle cx="398.5" cy="899.6" r="5.55"/><circle cx="369.3" cy="867.3" r="5.55"/><circle cx="398.3" cy="900.4" r="5.55"/><circle cx="400" cy="909.5" r="5.55"/><circle cx="405.2" cy="904.9" r="5.55"/><circle cx="410.9" cy="909.5" r="5.55"/><circle cx="408" cy="923.7" r="5.55"/><circle cx="417.7" cy="918.6" r="5.55"/><circle cx="420" cy="927.7" r="5.55"/><circle cx="426.8" cy="922" r="5.55"/><circle cx="431.9" cy="903.2" r="5.55"/><circle cx="431.9" cy="919.7" r="5.55"/><circle cx="430.2" cy="931.1" r="5.55"/><circle cx="439.3" cy="928.8" r="5.55"/><circle cx="442.7" cy="936.8" r="5.55"/><circle cx="443.9" cy="944.8" r="5.55"/><circle cx="450.7" cy="940.2" r="5.55"/><circle cx="448.4" cy="950.5" r="5.55"/><circle cx="451.9" cy="956.2" r="5.55"/><circle cx="459.8" cy="948.2" r="5.55"/><circle cx="467.8" cy="947" r="5.55"/><circle cx="464.4" cy="955" r="5.55"/><circle cx="472.4" cy="957.3" r="5.55"/><circle cx="402.6" cy="905.1" r="5.55"/><circle cx="404.3" cy="910.2" r="5.55"/><circle cx="424.8" cy="923.1" r="5.55"/><circle cx="428.2" cy="925.6" r="5.55"/><circle cx="438.4" cy="928.2" r="5.55"/><circle cx="445.3" cy="943.6" r="5.55"/><circle cx="455.5" cy="951.2" r="5.55"/><circle cx="461.5" cy="953" r="5.55"/><circle cx="470" cy="966.6" r="5.55"/><circle cx="436" cy="925" r="5.55"/><circle cx="414" cy="915" r="5.55"/><circle cx="447.8" cy="947.8" r="5.55"/><circle cx="419.8" cy="926.1" r="5.55"/><circle cx="427.5" cy="930.3" r="5.55"/><circle cx="442" cy="942.3" r="5.55"/><circle cx="444.6" cy="948.3" r="5.55"/><circle cx="451.4" cy="950.8" r="5.55"/><circle cx="457.4" cy="952.5" r="5.55"/><circle cx="469.4" cy="964.5" r="5.55"/></g>
<path d="M117.1 674.9L571.3 1038.3" stroke="#000" stroke-width="2.2" stroke-dasharray="12.5 12.5" fill="none"/>
</g>
<path d="M118.5 1115.9v-8.33M118.5 661.7v8.33M179.5 1115.9v-8.33M179.5 661.7v8.33M240.5 1115.9v-8.33M240.5 661.7v8.33M301.5 1115.9v-8.33M301.5 661.7v8.33M362.5 1115.9v-8.33M362.5 661.7v8.33M423.5 1115.9v-8.33M423.5 661.7v8.33M484.5 1115.9v-8.33M484.5 661.7v8.33M545.5 1115.9v-8.33M545.5 661.7v8.33" stroke="#000" stroke-width="1.0" fill="none"/>
<text x="118.5" y="1138.1" text-anchor="middle" class="t">−200</text>
<text x="179.5" y="1138.1" text-anchor="middle" class="t">−150</text>
<text x="240.5" y="1138.1" text-anchor="middle" class="t">−100</text>
<text x="301.5" y="1138.1" text-anchor="middle" class="t">−50</text>
<text x="362.5" y="1138.1" text-anchor="middle" class="t">0</text>
<text x="423.5" y="1138.1" text-anchor="middle" class="t">50</text>
<text x="484.5" y="1138.1" text-anchor="middle" class="t">100</text>
<text x="545.5" y="1138.1" text-anchor="middle" class="t">150</text>
<path d="M117.1 1115.5h8.33M571.3 1115.5h-8.33M117.1 1054.5h8.33M571.3 1054.5h-8.33M117.1 992.5h8.33M571.3 992.5h-8.33M117.1 931.5h8.33M571.3 931.5h-8.33M117.1 870.5h8.33M571.3 870.5h-8.33M117.1 809.5h8.33M571.3 809.5h-8.33M117.1 748.5h8.33M571.3 748.5h-8.33M117.1 687.5h8.33M571.3 687.5h-8.33" stroke="#000" stroke-width="1.0" fill="none"/>
<text x="107.8" y="1120.1" text-anchor="end" class="t">−200</text>
<text x="107.8" y="1059.1" text-anchor="end" class="t">−150</text>
<text x="107.8" y="997.1" text-anchor="end" class="t">−100</text>
<text x="107.8" y="936.1" text-anchor="end" class="t">−50</text>
<text x="107.8" y="875.1" text-anchor="end" class="t">0</text>
<text x="107.8" y="814.1" text-anchor="end" class="t">50</text>
<text x="107.8" y="753.1" text-anchor="end" class="t">100</text>
<text x="107.8" y="692.1" text-anchor="end" class="t">150</text>
<rect x="117" y="662" width="454" height="454" fill="none" stroke="#000" stroke-width="2"/>
<text x="344.2" y="651.5" text-anchor="middle" class="ti">WalenTest</text>
<rect x="125.0" y="669.2" width="144.7" height="71.5" fill="#fff" stroke="#000" stroke-width="1.55"/>
<text x="128.8" y="686.4" font-size="18.75">slope = -0.797</text>
<text x="129.7" y="708.8" font-size="18.75"><tspan class="m" font-size="19.5">r</tspan><tspan dx="4.9">= -0.997</tspan></text>
<text x="130.1" y="731.0" font-size="18.75"><tspan class="m" font-size="19.5">M</tspan><tspan class="m" font-size="13.5" dy="3.2">A</tspan><tspan dy="-3.2" dx="4"> = 0.8</tspan></text>
<text x="344.2" y="1167.9" text-anchor="middle" class="t">V<tspan class="m" font-size="11.67" dy="2.2" dx="1">A</tspan><tspan dy="-2.2" dx="1">(km/s)</tspan></text>
<text transform="translate(44.7 890) rotate(-90)" text-anchor="middle" class="t">V<tspan class="m" font-size="11.67" dy="2" dx="0.5" letter-spacing="0.85">remaining</tspan><tspan dy="-2" dx="0.5">(km/s)</tspan></text>
<clipPath id="c5372"><rect x="672.9" y="661.7" width="454.2" height="454.2"/></clipPath>
<g clip-path="url(#c5372)">
<path d="M816.4 728.4L842.4 721L1020.4 725.4L1027.4 662.6L986.4 706.6L957 765.4L967.4 763.6L941.4 743.4L907 800L982.4 826.4L797.4 767.4L886.4 748.4L924.4 841.4L928.4 900.4L913.4 878.4L918.4 960.4L921 912L928.4 900.4L928.4 919.4L893.6 880.4L985.3 1070.9L970.4 1046.4L975.2 1023.2L973.4 1005.5L971.7 990.9L967.5 975.5L1009.5 962.4L976.2 990.4L988.5 981.5L986.5 997.2L999.4 1002.2L1002.4 1005.3L999.4 1017.4L1003.4 1031.5L939.4 958L923.6 957L935.4 974.4L967.5 963.2L928.4 919.4" fill="none" stroke="#0000ff" stroke-width="2.08" stroke-linejoin="round" />
<path d="M921 912L887.4 944.6L886.6 965.4L862.4 976.6L861.4 1003.4L849.4 1003.4L848.4 1022.4L843 1023.6L861.2 1051.6L848.4 1046.4L834 1040.6L860.6 1024L874.4 1042.4L851.4 1037L844 1054.4L873.2 1107.6L914.4 1090.4L929.6 1102L909.6 1109.4" fill="none" stroke="#0000ff" stroke-width="2.08" stroke-linejoin="round" />
<path d="M929.6 1102L939.2 1100.4L956.3 1071.2L985.5 1049.2L1013.5 1031.3L1003.4 1031.5" fill="none" stroke="#0000ff" stroke-width="2.08" stroke-linejoin="round" />
<path d="M985.5 1049.2L975.2 1023.2L992.3 1057.5" fill="none" stroke="#0000ff" stroke-width="2.08" stroke-linejoin="round" />
<path d="M1013.5 1031.3L989.8 1023.7L984.3 1025.4L980.5 1012.6L976.2 990.4" fill="none" stroke="#0000ff" stroke-width="2.08" stroke-linejoin="round" />
<path d="M999.4 1002.2L984.3 1025.4" fill="none" stroke="#0000ff" stroke-width="2.08" stroke-linejoin="round" />
<path d="M843 1023.6L848.4 1046.4" fill="none" stroke="#0000ff" stroke-width="2.08" stroke-linejoin="round" />
<path d="M918.4 960.4L923.6 957" fill="none" stroke="#0000ff" stroke-width="2.08" stroke-linejoin="round" />
<path d="M1009.5 962.4L971.7 990.9" fill="none" stroke="#0000ff" stroke-width="2.08" stroke-linejoin="round" />
<path d="M976.2 990.4L999.4 1002.2" fill="none" stroke="#0000ff" stroke-width="2.08" stroke-linejoin="round" />
<path d="M971.7 990.9L1002.4 1005.3" fill="none" stroke="#0000ff" stroke-width="2.08" stroke-linejoin="round" />
<path d="M976.2 990.4L999.4 1017.4" fill="none" stroke="#0000ff" stroke-width="2.08" stroke-linejoin="round" />
<path d="M986.5 997.2L980.5 1012.6" fill="none" stroke="#0000ff" stroke-width="2.08" stroke-linejoin="round" />
<path d="M999.4 1002.2L980.5 1012.6" fill="none" stroke="#0000ff" stroke-width="2.08" stroke-linejoin="round" />
<path d="M1002.4 1005.3L989.8 1023.7" fill="none" stroke="#0000ff" stroke-width="2.08" stroke-linejoin="round" />
<path d="M986.5 997.2L984.3 1025.4" fill="none" stroke="#0000ff" stroke-width="2.08" stroke-linejoin="round" />
<g fill="#0000ff"><circle cx="816.4" cy="728.4" r="3.6"/><circle cx="842.4" cy="721" r="3.6"/><circle cx="1020.4" cy="725.4" r="3.6"/><circle cx="1027.4" cy="662.6" r="3.6"/><circle cx="986.4" cy="706.6" r="3.6"/><circle cx="957" cy="765.4" r="3.6"/><circle cx="967.4" cy="763.6" r="3.6"/><circle cx="941.4" cy="743.4" r="3.6"/><circle cx="907" cy="800" r="3.6"/><circle cx="982.4" cy="826.4" r="3.6"/><circle cx="797.4" cy="767.4" r="3.6"/><circle cx="886.4" cy="748.4" r="3.6"/><circle cx="924.4" cy="841.4" r="3.6"/><circle cx="928.4" cy="900.4" r="3.6"/><circle cx="913.4" cy="878.4" r="3.6"/><circle cx="893.6" cy="880.4" r="3.6"/><circle cx="921" cy="912" r="3.6"/><circle cx="928.4" cy="919.4" r="3.6"/><circle cx="887.4" cy="944.6" r="3.6"/><circle cx="886.6" cy="965.4" r="3.6"/><circle cx="862.4" cy="976.6" r="3.6"/><circle cx="861.4" cy="1003.4" r="3.6"/><circle cx="849.4" cy="1003.4" r="3.6"/><circle cx="848.4" cy="1022.4" r="3.6"/><circle cx="843" cy="1023.6" r="3.6"/><circle cx="860.6" cy="1024" r="3.6"/><circle cx="834" cy="1040.6" r="3.6"/><circle cx="851.4" cy="1037" r="3.6"/><circle cx="874.4" cy="1042.4" r="3.6"/><circle cx="848.4" cy="1046.4" r="3.6"/><circle cx="861.2" cy="1051.6" r="3.6"/><circle cx="844" cy="1054.4" r="3.6"/><circle cx="873.2" cy="1107.6" r="3.6"/><circle cx="914.4" cy="1090.4" r="3.6"/><circle cx="929.6" cy="1102" r="3.6"/><circle cx="909.6" cy="1109.4" r="3.6"/><circle cx="939.2" cy="1100.4" r="3.6"/><circle cx="956.3" cy="1071.2" r="3.6"/><circle cx="1013.5" cy="1031.3" r="3.6"/><circle cx="1003.4" cy="1031.5" r="3.6"/><circle cx="918.4" cy="960.4" r="3.6"/><circle cx="923.6" cy="957" r="3.6"/><circle cx="939.4" cy="958" r="3.6"/><circle cx="935.4" cy="974.4" r="3.6"/><circle cx="967.5" cy="963.2" r="3.6"/><circle cx="967.5" cy="975.5" r="3.6"/><circle cx="1009.5" cy="962.4" r="3.6"/><circle cx="988.5" cy="981.5" r="3.6"/><circle cx="971.7" cy="990.9" r="3.6"/><circle cx="976.2" cy="990.4" r="3.6"/><circle cx="986.5" cy="997.2" r="3.6"/><circle cx="999.4" cy="1002.2" r="3.6"/><circle cx="1002.4" cy="1005.3" r="3.6"/><circle cx="973.4" cy="1005.5" r="3.6"/><circle cx="980.5" cy="1012.6" r="3.6"/><circle cx="999.4" cy="1017.4" r="3.6"/><circle cx="975.2" cy="1023.2" r="3.6"/><circle cx="984.3" cy="1025.4" r="3.6"/><circle cx="989.8" cy="1023.7" r="3.6"/><circle cx="970.4" cy="1046.4" r="3.6"/><circle cx="985.5" cy="1049.2" r="3.6"/><circle cx="992.3" cy="1057.5" r="3.6"/><circle cx="985.3" cy="1070.9" r="3.6"/></g>
</g>
<path d="M692.5 1115.9v-8.33M692.5 661.7v8.33M767.5 1115.9v-8.33M767.5 661.7v8.33M843.5 1115.9v-8.33M843.5 661.7v8.33M919.5 1115.9v-8.33M919.5 661.7v8.33M994.5 1115.9v-8.33M994.5 661.7v8.33M1070.5 1115.9v-8.33M1070.5 661.7v8.33" stroke="#000" stroke-width="1.0" fill="none"/>
<path d="M692.5 1115.9V661.7M767.5 1115.9V661.7M843.5 1115.9V661.7M919.5 1115.9V661.7M994.5 1115.9V661.7M1070.5 1115.9V661.7" class="gr" clip-path="url(#c5372)"/>
<text x="692.5" y="1138.1" text-anchor="middle" class="t">−40</text>
<text x="767.5" y="1138.1" text-anchor="middle" class="t">−20</text>
<text x="843.5" y="1138.1" text-anchor="middle" class="t">0</text>
<text x="919.5" y="1138.1" text-anchor="middle" class="t">20</text>
<text x="994.5" y="1138.1" text-anchor="middle" class="t">40</text>
<text x="1070.5" y="1138.1" text-anchor="middle" class="t">60</text>
<path d="M672.9 1115.5h8.33M1127.1 1115.5h-8.33M672.9 1040.5h8.33M1127.1 1040.5h-8.33M672.9 964.5h8.33M1127.1 964.5h-8.33M672.9 889.5h8.33M1127.1 889.5h-8.33M672.9 813.5h8.33M1127.1 813.5h-8.33M672.9 738.5h8.33M1127.1 738.5h-8.33M672.9 662.5h8.33M1127.1 662.5h-8.33" stroke="#000" stroke-width="1.0" fill="none"/>
<path d="M672.9 1040.5H1127.1M672.9 964.5H1127.1M672.9 889.5H1127.1M672.9 813.5H1127.1M672.9 738.5H1127.1" class="gr" clip-path="url(#c5372)"/>
<text x="663.6" y="1120.1" text-anchor="end" class="t">−40</text>
<text x="663.6" y="1045.1" text-anchor="end" class="t">−20</text>
<text x="663.6" y="969.1" text-anchor="end" class="t">0</text>
<text x="663.6" y="894.1" text-anchor="end" class="t">20</text>
<text x="663.6" y="818.1" text-anchor="end" class="t">40</text>
<text x="663.6" y="743.1" text-anchor="end" class="t">60</text>
<text x="663.6" y="667.1" text-anchor="end" class="t">80</text>
<rect x="673" y="662" width="454" height="454" fill="none" stroke="#000" stroke-width="2"/>
<text x="900" y="1166.2" text-anchor="middle" class="t">V2(km/s)</text>
<text transform="translate(614 891.1) rotate(-90)" text-anchor="middle" class="t">V1(km/s)</text>
<text x="900" y="649.7" text-anchor="middle" class="ti">Hodogram (V2_V1 MVAV<tspan class="m" font-size="16.3" dy="3.3" dx="1" letter-spacing="1.0">remaining</tspan><tspan dy="-3.3"> frame)</tspan></text>
<g font-size="18.75"><text x="685.7" y="1092.6" class="m" font-size="19.5">λ</text><text x="695.6" y="1095.8" class="mr" font-size="13.1">1</text><text x="703.9" y="1097.9" class="mr" font-size="27">/</text><text x="713.6" y="1092.6" class="m" font-size="19.5">λ</text><text x="723.2" y="1095.8" class="mr" font-size="13.1">2</text><text x="735.8" y="1094.9" class="mr" font-size="24.6">≈</text><text x="755.4" y="1092.6">3.83</text></g>
<clipPath id="c9262"><rect x="1228.7" y="661.7" width="454.2" height="454.2"/></clipPath>
<g clip-path="url(#c9262)">
<path d="M1431.3 728.4L1443.4 721L1440.5 725.4L1448.3 662.6L1451.4 706.6L1473.6 765.4L1485.6 763.6L1469.6 743.4L1468.5 800L1470.4 826.4L1457.5 767.4L1468.7 748.4L1477.6 841.4L1479.2 900.4L1477.7 878.4L1480.7 960.4L1476.3 912L1479.2 900.4L1475.8 919.4L1475.3 880.4L1464.4 1070.9L1455 1046.4L1463.7 1023.2L1465 1005.5L1466.6 990.9L1478.7 975.5L1467.6 962.4L1469.5 990.4L1476.8 981.5L1470.5 997.2L1473.9 1002.2L1469.5 1005.3L1463.7 1017.4L1460.8 1031.5L1474.3 958L1467.1 957L1470.5 974.4L1476.8 963.2L1475.8 919.4" fill="none" stroke="#0000ff" stroke-width="2.08" stroke-linejoin="round" />
<path d="M1476.3 912L1471.4 944.6L1476.8 965.4L1470.5 976.6L1465.6 1003.4L1473.9 1003.4L1477.3 1022.4L1463 1023.6L1461 1051.6L1447.5 1046.4L1470.5 1040.6L1468.5 1024L1466 1042.4L1462 1037L1465.6 1054.4L1446.2 1107.6L1451.3 1090.4L1447.5 1102L1453.5 1109.4" fill="none" stroke="#0000ff" stroke-width="2.08" stroke-linejoin="round" />
<path d="M1447.5 1102L1455.4 1100.4L1455.4 1071.2L1454.9 1049.2L1451.1 1031.3L1460.8 1031.5" fill="none" stroke="#0000ff" stroke-width="2.08" stroke-linejoin="round" />
<path d="M1454.9 1049.2L1463.7 1023.2L1458.3 1057.5" fill="none" stroke="#0000ff" stroke-width="2.08" stroke-linejoin="round" />
<path d="M1451.1 1031.3L1459 1023.7L1468.5 1025.4L1455.4 1012.6L1469.5 990.4" fill="none" stroke="#0000ff" stroke-width="2.08" stroke-linejoin="round" />
<path d="M1473.9 1002.2L1468.5 1025.4" fill="none" stroke="#0000ff" stroke-width="2.08" stroke-linejoin="round" />
<path d="M1463 1023.6L1447.5 1046.4" fill="none" stroke="#0000ff" stroke-width="2.08" stroke-linejoin="round" />
<path d="M1480.7 960.4L1467.1 957" fill="none" stroke="#0000ff" stroke-width="2.08" stroke-linejoin="round" />
<path d="M1467.6 962.4L1466.6 990.9" fill="none" stroke="#0000ff" stroke-width="2.08" stroke-linejoin="round" />
<path d="M1469.5 990.4L1473.9 1002.2" fill="none" stroke="#0000ff" stroke-width="2.08" stroke-linejoin="round" />
<path d="M1466.6 990.9L1469.5 1005.3" fill="none" stroke="#0000ff" stroke-width="2.08" stroke-linejoin="round" />
<path d="M1469.5 990.4L1463.7 1017.4" fill="none" stroke="#0000ff" stroke-width="2.08" stroke-linejoin="round" />
<path d="M1470.5 997.2L1455.4 1012.6" fill="none" stroke="#0000ff" stroke-width="2.08" stroke-linejoin="round" />
<path d="M1473.9 1002.2L1455.4 1012.6" fill="none" stroke="#0000ff" stroke-width="2.08" stroke-linejoin="round" />
<path d="M1469.5 1005.3L1459 1023.7" fill="none" stroke="#0000ff" stroke-width="2.08" stroke-linejoin="round" />
<path d="M1470.5 997.2L1468.5 1025.4" fill="none" stroke="#0000ff" stroke-width="2.08" stroke-linejoin="round" />
<g fill="#0000ff"><circle cx="1431.3" cy="728.4" r="3.6"/><circle cx="1443.4" cy="721" r="3.6"/><circle cx="1440.5" cy="725.4" r="3.6"/><circle cx="1448.3" cy="662.6" r="3.6"/><circle cx="1451.4" cy="706.6" r="3.6"/><circle cx="1473.6" cy="765.4" r="3.6"/><circle cx="1485.6" cy="763.6" r="3.6"/><circle cx="1469.6" cy="743.4" r="3.6"/><circle cx="1468.5" cy="800" r="3.6"/><circle cx="1470.4" cy="826.4" r="3.6"/><circle cx="1457.5" cy="767.4" r="3.6"/><circle cx="1468.7" cy="748.4" r="3.6"/><circle cx="1477.6" cy="841.4" r="3.6"/><circle cx="1479.2" cy="900.4" r="3.6"/><circle cx="1477.7" cy="878.4" r="3.6"/><circle cx="1475.3" cy="880.4" r="3.6"/><circle cx="1476.3" cy="912" r="3.6"/><circle cx="1475.8" cy="919.4" r="3.6"/><circle cx="1471.4" cy="944.6" r="3.6"/><circle cx="1476.8" cy="965.4" r="3.6"/><circle cx="1470.5" cy="976.6" r="3.6"/><circle cx="1465.6" cy="1003.4" r="3.6"/><circle cx="1473.9" cy="1003.4" r="3.6"/><circle cx="1477.3" cy="1022.4" r="3.6"/><circle cx="1463" cy="1023.6" r="3.6"/><circle cx="1468.5" cy="1024" r="3.6"/><circle cx="1470.5" cy="1040.6" r="3.6"/><circle cx="1462" cy="1037" r="3.6"/><circle cx="1466" cy="1042.4" r="3.6"/><circle cx="1447.5" cy="1046.4" r="3.6"/><circle cx="1461" cy="1051.6" r="3.6"/><circle cx="1465.6" cy="1054.4" r="3.6"/><circle cx="1446.2" cy="1107.6" r="3.6"/><circle cx="1451.3" cy="1090.4" r="3.6"/><circle cx="1447.5" cy="1102" r="3.6"/><circle cx="1453.5" cy="1109.4" r="3.6"/><circle cx="1455.4" cy="1100.4" r="3.6"/><circle cx="1455.4" cy="1071.2" r="3.6"/><circle cx="1451.1" cy="1031.3" r="3.6"/><circle cx="1460.8" cy="1031.5" r="3.6"/><circle cx="1480.7" cy="960.4" r="3.6"/><circle cx="1467.1" cy="957" r="3.6"/><circle cx="1474.3" cy="958" r="3.6"/><circle cx="1470.5" cy="974.4" r="3.6"/><circle cx="1476.8" cy="963.2" r="3.6"/><circle cx="1478.7" cy="975.5" r="3.6"/><circle cx="1467.6" cy="962.4" r="3.6"/><circle cx="1476.8" cy="981.5" r="3.6"/><circle cx="1466.6" cy="990.9" r="3.6"/><circle cx="1469.5" cy="990.4" r="3.6"/><circle cx="1470.5" cy="997.2" r="3.6"/><circle cx="1473.9" cy="1002.2" r="3.6"/><circle cx="1469.5" cy="1005.3" r="3.6"/><circle cx="1465" cy="1005.5" r="3.6"/><circle cx="1455.4" cy="1012.6" r="3.6"/><circle cx="1463.7" cy="1017.4" r="3.6"/><circle cx="1463.7" cy="1023.2" r="3.6"/><circle cx="1468.5" cy="1025.4" r="3.6"/><circle cx="1459" cy="1023.7" r="3.6"/><circle cx="1455" cy="1046.4" r="3.6"/><circle cx="1454.9" cy="1049.2" r="3.6"/><circle cx="1458.3" cy="1057.5" r="3.6"/><circle cx="1464.4" cy="1070.9" r="3.6"/></g>
</g>
<path d="M1259.5 1115.9v-8.33M1259.5 661.7v8.33M1335.5 1115.9v-8.33M1335.5 661.7v8.33M1410.5 1115.9v-8.33M1410.5 661.7v8.33M1486.5 1115.9v-8.33M1486.5 661.7v8.33M1562.5 1115.9v-8.33M1562.5 661.7v8.33M1638.5 1115.9v-8.33M1638.5 661.7v8.33" stroke="#000" stroke-width="1.0" fill="none"/>
<path d="M1259.5 1115.9V661.7M1335.5 1115.9V661.7M1410.5 1115.9V661.7M1486.5 1115.9V661.7M1562.5 1115.9V661.7M1638.5 1115.9V661.7" class="gr" clip-path="url(#c9262)"/>
<text x="1259.5" y="1138.1" text-anchor="middle" class="t">100</text>
<text x="1335.5" y="1138.1" text-anchor="middle" class="t">120</text>
<text x="1410.5" y="1138.1" text-anchor="middle" class="t">140</text>
<text x="1486.5" y="1138.1" text-anchor="middle" class="t">160</text>
<text x="1562.5" y="1138.1" text-anchor="middle" class="t">180</text>
<text x="1638.5" y="1138.1" text-anchor="middle" class="t">200</text>
<path d="M1228.7 1115.5h8.33M1682.9 1115.5h-8.33M1228.7 1040.5h8.33M1682.9 1040.5h-8.33M1228.7 964.5h8.33M1682.9 964.5h-8.33M1228.7 889.5h8.33M1682.9 889.5h-8.33M1228.7 813.5h8.33M1682.9 813.5h-8.33M1228.7 738.5h8.33M1682.9 738.5h-8.33M1228.7 662.5h8.33M1682.9 662.5h-8.33" stroke="#000" stroke-width="1.0" fill="none"/>
<path d="M1228.7 1040.5H1682.9M1228.7 964.5H1682.9M1228.7 889.5H1682.9M1228.7 813.5H1682.9M1228.7 738.5H1682.9" class="gr" clip-path="url(#c9262)"/>
<text x="1219.4" y="1120.1" text-anchor="end" class="t">−40</text>
<text x="1219.4" y="1045.1" text-anchor="end" class="t">−20</text>
<text x="1219.4" y="969.1" text-anchor="end" class="t">0</text>
<text x="1219.4" y="894.1" text-anchor="end" class="t">20</text>
<text x="1219.4" y="818.1" text-anchor="end" class="t">40</text>
<text x="1219.4" y="743.1" text-anchor="end" class="t">60</text>
<text x="1219.4" y="667.1" text-anchor="end" class="t">80</text>
<rect x="1229" y="662" width="454" height="454" fill="none" stroke="#000" stroke-width="2"/>
<text x="1455.8" y="1166.2" text-anchor="middle" class="t">V3(km/s)</text>
<text transform="translate(1169.8 891.1) rotate(-90)" text-anchor="middle" class="t">V1(km/s)</text>
<text x="1455.8" y="649.7" text-anchor="middle" class="ti">Hodogram (V3_V1 MVAV<tspan class="m" font-size="16.3" dy="3.3" dx="1" letter-spacing="1.0">remaining</tspan><tspan dy="-3.3"> frame)</tspan></text>
<g font-size="18.75"><text x="1261.2" y="1092.6" class="m" font-size="19.5">λ</text><text x="1271.1" y="1095.8" class="mr" font-size="13.1">1</text><text x="1279.4" y="1097.9" class="mr" font-size="27">/</text><text x="1289.1" y="1092.6" class="m" font-size="19.5">λ</text><text x="1298.7" y="1095.8" class="mr" font-size="13.1">3</text><text x="1311.3" y="1094.9" class="mr" font-size="24.6">≈</text><text x="1330.9" y="1092.6">116.71</text></g>
<clipPath id="c2124"><rect x="117.1" y="1304.95" width="1566" height="222"/></clipPath>
<g clip-path="url(#c2124)">
<path d="M117.37 1316.92L142.23 1319.2L167.09 1322.05L191.96 1321.19L216.82 1319.48L241.68 1322.33L266.54 1323.47L291.4 1321.19L316.27 1319.2L341.13 1318.35L365.99 1323.75L390.85 1321.48L415.71 1320.91L440.58 1318.63L465.44 1319.34L490.3 1319.66L515.16 1319.66L540.02 1322.54L564.89 1319.34L589.75 1321.9L614.61 1319.34L639.47 1316.78L664.33 1319.34L689.2 1318.38L714.06 1318.38L738.92 1320.62L763.78 1317.1L788.64 1315.82L813.51 1314.22L838.37 1315.5L863.23 1315.82L888.09 1315.5L912.95 1315.5L937.82 1315.82L962.68 1316.78L987.54 1316.14L1012.4 1318.38L1037.26 1317.74L1062.13 1317.42L1086.99 1317.74L1111.85 1316.46L1136.71 1319.66L1161.57 1319.66L1186.44 1321.58L1211.3 1322.22L1236.16 1323.51L1261.02 1327.67L1285.88 1330.55L1310.75 1326.39L1335.61 1326.07L1360.47 1328.95L1385.33 1330.87L1410.19 1344L1435.06 1343.36L1459.92 1339.84L1484.78 1336.64L1509.64 1345.29L1534.5 1338.88L1559.37 1342.08L1584.23 1351.37L1609.09 1356.5L1633.95 1352.65L1658.81 1350.73L1683.68 1359.06" fill="none" stroke="#ff0000" stroke-width="2.08" stroke-linejoin="round" />
<path d="M117.37 1461.83L142.23 1463.83L167.09 1449.02L191.96 1453.86L216.82 1458.7L241.68 1450.16L266.54 1450.73L291.4 1448.74L316.27 1455.85L341.13 1455.85L365.99 1442.47L390.85 1445.32L415.71 1453.58L440.58 1456.14L465.44 1454.18L490.3 1452.58L515.16 1451.62L540.02 1450.02L564.89 1455.46L589.75 1450.02L614.61 1464.11L639.47 1463.79L664.33 1456.1L689.2 1460.91L714.06 1460.91L738.92 1464.75L763.78 1469.24L788.64 1471.16L813.51 1486.85L838.37 1485.57L863.23 1485.25L888.09 1491.02L912.95 1494.22L937.82 1491.66L962.68 1488.13L987.54 1488.13L1012.4 1486.53L1037.26 1487.49L1062.13 1486.21L1086.99 1483.97L1111.85 1482.05L1136.71 1483.33L1161.57 1482.69L1186.44 1476.6L1211.3 1469.88L1236.16 1461.87L1261.02 1448.42L1285.88 1443.29L1310.75 1449.7L1335.61 1450.98L1360.47 1442.01L1385.33 1438.49L1410.19 1429.84L1435.06 1455.14L1459.92 1423.11L1484.78 1429.52L1509.64 1416.07L1534.5 1425.36L1559.37 1429.52L1584.23 1406.46L1609.09 1395.25L1633.95 1400.37L1658.81 1422.79L1683.68 1444.89" fill="none" stroke="#008000" stroke-width="2.08" stroke-linejoin="round" />
<path d="M117.37 1507.67L142.23 1469.23L167.09 1483.19L191.96 1475.21L216.82 1472.08L241.68 1474.07L266.54 1508.52L291.4 1497.7L316.27 1498.56L341.13 1494.57L365.99 1491.73L390.85 1499.13L415.71 1498.56L440.58 1500.84L465.44 1504.15L490.3 1503.51L515.16 1505.75L540.02 1498.38L564.89 1502.87L589.75 1491.98L614.61 1511.51L639.47 1510.55L664.33 1493.58L689.2 1504.79L714.06 1513.12L738.92 1515.68L763.78 1504.15L788.64 1506.39L813.51 1504.47L838.37 1500.62L863.23 1505.11L888.09 1487.17L912.95 1477.88L937.82 1475.32L962.68 1470.84L987.54 1469.88L1012.4 1467.31L1037.26 1477.88L1062.13 1470.52L1086.99 1471.48L1111.85 1466.35L1136.71 1461.87L1161.57 1461.87L1186.44 1459.63L1211.3 1461.87L1236.16 1458.99L1261.02 1456.1L1285.88 1454.18L1310.75 1462.19L1335.61 1458.67L1360.47 1463.15L1385.33 1457.39L1410.19 1431.12L1435.06 1412.87L1459.92 1460.27L1484.78 1454.18L1509.64 1449.06L1534.5 1455.14L1559.37 1438.17L1584.23 1450.98L1609.09 1458.67L1633.95 1469.56L1658.81 1432.72L1683.68 1402.62" fill="none" stroke="#0000ff" stroke-width="2.08" stroke-linejoin="round" />
<path d="M117.1 1500.5H1683.1" stroke="#000" stroke-width="1" stroke-dasharray="12.5 12.5" fill="none"/>
</g>
<path d="M291.5 1526.95v-8.33M291.5 1304.95v8.33M540.5 1526.95v-8.33M540.5 1304.95v8.33M788.5 1526.95v-8.33M788.5 1304.95v8.33M1037.5 1526.95v-8.33M1037.5 1304.95v8.33M1285.5 1526.95v-8.33M1285.5 1304.95v8.33M1534.5 1526.95v-8.33M1534.5 1304.95v8.33" stroke="#000" stroke-width="1.0" fill="none"/>
<text x="291.5" y="1549.15" text-anchor="middle" class="t">12/19 12:53:03</text>
<text x="540.5" y="1549.15" text-anchor="middle" class="t">12/19 12:53:13</text>
<text x="788.5" y="1549.15" text-anchor="middle" class="t">12/19 12:53:23</text>
<text x="1037.5" y="1549.15" text-anchor="middle" class="t">12/19 12:53:33</text>
<text x="1285.5" y="1549.15" text-anchor="middle" class="t">12/19 12:53:43</text>
<text x="1534.5" y="1549.15" text-anchor="middle" class="t">12/19 12:53:53</text>
<path d="M117.1 1526.5h8.33M1683.1 1526.5h-8.33M117.1 1500.5h8.33M1683.1 1500.5h-8.33M117.1 1472.5h8.33M1683.1 1472.5h-8.33M117.1 1444.5h8.33M1683.1 1444.5h-8.33M117.1 1416.5h8.33M1683.1 1416.5h-8.33M117.1 1388.5h8.33M1683.1 1388.5h-8.33M117.1 1360.5h8.33M1683.1 1360.5h-8.33M117.1 1332.5h8.33M1683.1 1332.5h-8.33M117.1 1304.5h8.33M1683.1 1304.5h-8.33" stroke="#000" stroke-width="1.0" fill="none"/>
<text x="107.8" y="1531.1" text-anchor="end" class="t">−10</text>
<text x="107.8" y="1505.1" text-anchor="end" class="t">0</text>
<text x="107.8" y="1477.1" text-anchor="end" class="t">10</text>
<text x="107.8" y="1449.1" text-anchor="end" class="t">20</text>
<text x="107.8" y="1421.1" text-anchor="end" class="t">30</text>
<text x="107.8" y="1393.1" text-anchor="end" class="t">40</text>
<text x="107.8" y="1365.1" text-anchor="end" class="t">50</text>
<text x="107.8" y="1337.1" text-anchor="end" class="t">60</text>
<text x="107.8" y="1309.1" text-anchor="end" class="t">70</text>
<rect x="117" y="1305" width="1566" height="222" fill="none" stroke="#000" stroke-width="2"/>
<text x="900.1" y="1294.75" text-anchor="middle" class="ti">Magnetic Field (RTN Frame)</text>
<text transform="translate(59.7 1418.55) rotate(-90)" text-anchor="middle" class="t">B(nT)</text>
<rect x="1604" y="1312" width="72" height="72" fill="#fff" stroke="#000" stroke-width="2"/>
<path d="M1614.28 1325.07H1634.7" stroke="#ff0000" stroke-width="2.08" stroke-linecap="square"/>
<text x="1650.73" y="1330.07" class="l">Br</text>
<path d="M1614.28 1347.47H1634.7" stroke="#008000" stroke-width="2.08" stroke-linecap="square"/>
<text x="1650.73" y="1352.47" class="l">Bt</text>
<path d="M1614.28 1369.87H1634.7" stroke="#0000ff" stroke-width="2.08" stroke-linecap="square"/>
<text x="1650.73" y="1374.87" class="l">Bn</text>
<clipPath id="c2458"><rect x="117.1" y="1638.55" width="1566" height="222"/></clipPath>
<g clip-path="url(#c2458)">
<path d="M117.37 1836.83L142.23 1838.43L167.09 1839.71L191.96 1839.39L216.82 1839.39L241.68 1840.03L266.54 1836.51L291.4 1839.07L316.27 1838.11L341.13 1838.75L365.99 1839.71L390.85 1839.39L415.71 1837.79L440.58 1837.79L465.44 1838.11L490.3 1838.11L515.16 1838.11L540.02 1837.79L564.89 1837.79L589.75 1838.75L614.61 1834.91L639.47 1835.87L664.33 1838.11L689.2 1836.83L714.06 1835.87L738.92 1833.94L763.78 1835.23L788.64 1835.23L813.51 1832.02L838.37 1832.34L863.23 1832.02L888.09 1832.34L912.95 1832.34L937.82 1833.3L962.68 1833.94L987.54 1834.26L1012.4 1833.62L1037.26 1832.66L1062.13 1833.94L1086.99 1834.26L1111.85 1835.87L1136.71 1834.59L1161.57 1834.59L1186.44 1835.55L1211.3 1836.51L1236.16 1838.11L1261.02 1839.71L1285.88 1839.71L1310.75 1839.39L1335.61 1839.39L1360.47 1839.71L1385.33 1840.35L1410.19 1838.43L1435.06 1834.59L1459.92 1839.71L1484.78 1840.03L1509.64 1840.03L1534.5 1840.03L1559.37 1839.07L1584.23 1839.71L1609.09 1838.75L1633.95 1837.79L1658.81 1836.83L1683.68 1831.06" fill="none" stroke="#ff0000" stroke-width="2.08" stroke-linejoin="round" />
<path d="M117.37 1735.62L142.23 1754.51L167.09 1746.19L191.96 1750.35L216.82 1752.91L241.68 1750.67L266.54 1734.01L291.4 1739.14L316.27 1739.46L341.13 1741.38L365.99 1741.38L390.85 1737.86L415.71 1739.46L440.58 1738.18L465.44 1736.9L490.3 1736.9L515.16 1735.3L540.02 1738.82L564.89 1737.22L589.75 1742.02L614.61 1734.01L639.47 1734.34L664.33 1741.7L689.2 1736.9L714.06 1732.73L738.92 1731.77L763.78 1738.5L788.64 1737.54L813.51 1740.1L838.37 1741.7L863.23 1739.78L888.09 1749.39L912.95 1753.87L937.82 1754.83L962.68 1756.44L987.54 1757.08L1012.4 1758.36L1037.26 1752.91L1062.13 1756.44L1086.99 1755.79L1111.85 1758.04L1136.71 1760.28L1161.57 1760.28L1186.44 1760.92L1211.3 1758.68L1236.16 1759.64L1261.02 1759.32L1285.88 1759.64L1310.75 1756.76L1335.61 1758.36L1360.47 1755.15L1385.33 1757.72L1410.19 1768.93L1435.06 1781.74L1459.92 1754.83L1484.78 1758.36L1509.64 1759.64L1534.5 1757.4L1559.37 1766.36L1584.23 1757.72L1609.09 1752.91L1633.95 1748.11L1658.81 1768.29L1683.68 1785.9" fill="none" stroke="#008000" stroke-width="2.08" stroke-linejoin="round" />
<path d="M117.37 1720.24L142.23 1723.13L167.09 1728.89L191.96 1726.97L216.82 1724.73L241.68 1729.21L266.54 1726.01L291.4 1727.61L316.27 1723.45L341.13 1723.77L365.99 1731.45L390.85 1728.89L415.71 1725.37L440.58 1723.13L465.44 1723.77L490.3 1724.73L515.16 1725.37L540.02 1727.29L564.89 1723.45L589.75 1727.61L614.61 1719.28L639.47 1718.96L664.33 1724.09L689.2 1721.2L714.06 1720.24L738.92 1718.96L763.78 1717.04L788.64 1715.76L813.51 1709.03L838.37 1710.31L863.23 1709.99L888.09 1709.03L912.95 1708.39L937.82 1709.99L962.68 1711.92L987.54 1711.92L1012.4 1713.52L1037.26 1712.24L1062.13 1712.88L1086.99 1713.84L1111.85 1714.8L1136.71 1715.12L1161.57 1715.44L1186.44 1718.96L1211.3 1721.84L1236.16 1726.01L1261.02 1733.05L1285.88 1735.94L1310.75 1731.13L1335.61 1731.13L1360.47 1735.3L1385.33 1737.86L1410.19 1746.51L1435.06 1737.54L1459.92 1746.19L1484.78 1742.98L1509.64 1751.31L1534.5 1745.23L1559.37 1745.87L1584.23 1757.08L1609.09 1762.52L1633.95 1758.68L1658.81 1750.99L1683.68 1746.51" fill="none" stroke="#0000ff" stroke-width="2.08" stroke-linejoin="round" />
<path d="M117.37 1656.19L142.23 1656.19L167.09 1656.83L191.96 1656.83L216.82 1656.19L241.68 1656.83L266.54 1658.11L291.4 1656.83L316.27 1656.83L341.13 1656.19L365.99 1657.15L390.85 1656.51L415.71 1657.47L440.58 1656.83L465.44 1656.83L490.3 1656.83L515.16 1656.51L540.02 1657.79L564.89 1656.83L589.75 1657.15L614.61 1657.47L639.47 1656.19L664.33 1657.15L689.2 1657.15L714.06 1657.15L738.92 1658.11L763.78 1657.15L788.64 1656.51L813.51 1656.83L838.37 1657.15L863.23 1657.15L888.09 1656.83L912.95 1656.83L937.82 1656.83L962.68 1656.83L987.54 1656.19L1012.4 1657.47L1037.26 1658.43L1062.13 1657.47L1086.99 1657.47L1111.85 1656.19L1136.71 1657.47L1161.57 1657.47L1186.44 1657.79L1211.3 1657.79L1236.16 1657.15L1261.02 1657.79L1285.88 1657.79L1310.75 1657.47L1335.61 1657.15L1360.47 1658.11L1385.33 1657.79L1410.19 1658.11L1435.06 1657.47L1459.92 1659.07L1484.78 1658.11L1509.64 1658.43L1534.5 1658.43L1559.37 1658.11L1584.23 1658.75L1609.09 1659.07L1633.95 1659.07L1658.81 1659.39L1683.68 1659.71" fill="none" stroke="#000000" stroke-width="2.08" stroke-linejoin="round" />
<path d="M117.1 1750.5H1683.1" stroke="#000" stroke-width="1" stroke-dasharray="12.5 12.5" fill="none"/>
</g>
<path d="M291.5 1860.55v-8.33M291.5 1638.55v8.33M540.5 1860.55v-8.33M540.5 1638.55v8.33M788.5 1860.55v-8.33M788.5 1638.55v8.33M1037.5 1860.55v-8.33M1037.5 1638.55v8.33M1285.5 1860.55v-8.33M1285.5 1638.55v8.33M1534.5 1860.55v-8.33M1534.5 1638.55v8.33" stroke="#000" stroke-width="1.0" fill="none"/>
<text x="291.5" y="1882.75" text-anchor="middle" class="t">12/19 12:53:03</text>
<text x="540.5" y="1882.75" text-anchor="middle" class="t">12/19 12:53:13</text>
<text x="788.5" y="1882.75" text-anchor="middle" class="t">12/19 12:53:23</text>
<text x="1037.5" y="1882.75" text-anchor="middle" class="t">12/19 12:53:33</text>
<text x="1285.5" y="1882.75" text-anchor="middle" class="t">12/19 12:53:43</text>
<text x="1534.5" y="1882.75" text-anchor="middle" class="t">12/19 12:53:53</text>
<path d="M117.1 1860.5h8.33M1683.1 1860.5h-8.33M117.1 1833.5h8.33M1683.1 1833.5h-8.33M117.1 1805.5h8.33M1683.1 1805.5h-8.33M117.1 1777.5h8.33M1683.1 1777.5h-8.33M117.1 1750.5h8.33M1683.1 1750.5h-8.33M117.1 1722.5h8.33M1683.1 1722.5h-8.33M117.1 1694.5h8.33M1683.1 1694.5h-8.33M117.1 1666.5h8.33M1683.1 1666.5h-8.33M117.1 1638.5h8.33M1683.1 1638.5h-8.33" stroke="#000" stroke-width="1.0" fill="none"/>
<text x="107.8" y="1865.1" text-anchor="end" class="t">−80</text>
<text x="107.8" y="1838.1" text-anchor="end" class="t">−60</text>
<text x="107.8" y="1810.1" text-anchor="end" class="t">−40</text>
<text x="107.8" y="1782.1" text-anchor="end" class="t">−20</text>
<text x="107.8" y="1755.1" text-anchor="end" class="t">0</text>
<text x="107.8" y="1727.1" text-anchor="end" class="t">20</text>
<text x="107.8" y="1699.1" text-anchor="end" class="t">40</text>
<text x="107.8" y="1671.1" text-anchor="end" class="t">60</text>
<text x="107.8" y="1643.1" text-anchor="end" class="t">80</text>
<rect x="117" y="1639" width="1566" height="222" fill="none" stroke="#000" stroke-width="2"/>
<text x="900.1" y="1628.35" text-anchor="middle" class="ti">Magnetic Field (Flux Rope Frame)</text>
<text transform="translate(59.7 1752.15) rotate(-90)" text-anchor="middle" class="t">B(nT)</text>
<rect x="1601" y="1646" width="75" height="94" fill="#fff" stroke="#000" stroke-width="2"/>
<path d="M1610.89 1658.67H1631.3" stroke="#ff0000" stroke-width="2.08" stroke-linecap="square"/>
<text x="1647.34" y="1663.67" class="l">Bx'</text>
<path d="M1610.89 1681.07H1631.3" stroke="#008000" stroke-width="2.08" stroke-linecap="square"/>
<text x="1647.34" y="1686.07" class="l">By'</text>
<path d="M1610.89 1703.47H1631.3" stroke="#0000ff" stroke-width="2.08" stroke-linecap="square"/>
<text x="1647.34" y="1708.47" class="l">Bz'</text>
<path d="M1610.89 1725.87H1631.3" stroke="#000000" stroke-width="2.08" stroke-linecap="square"/>
<text x="1647.34" y="1730.87" class="l">|B|</text>
<clipPath id="c2791"><rect x="117.1" y="1972.15" width="1566" height="222"/></clipPath>
<g clip-path="url(#c2791)">
<path d="M117.37 1982.5L142.23 1979.3L167.09 1981.54L191.96 1981.54L216.82 1981.22L241.68 1980.9L266.54 1981.54L291.4 1982.18L316.27 1982.18L341.13 1982.5L365.99 1981.54L390.85 1981.54L415.71 1982.18L440.58 1982.18L465.44 1982.82L490.3 1982.82L515.16 1982.5L540.02 1981.22L564.89 1982.5L589.75 1982.5L614.61 1982.82L639.47 1982.5L664.33 1981.86L689.2 1982.18L714.06 1982.18L738.92 1982.18L763.78 1983.46L788.64 1983.14L813.51 1982.82L838.37 1982.18L863.23 1982.18L888.09 1981.86L912.95 1982.18L937.82 1982.5L962.68 1982.18L987.54 1981.86L1012.4 1981.54L1037.26 1980.26L1062.13 1981.54L1086.99 1981.86L1111.85 1982.5L1136.71 1981.86L1161.57 1981.22L1186.44 1980.9L1211.3 1981.22L1236.16 1980.58L1261.02 1980.26L1285.88 1979.62L1310.75 1981.86L1335.61 1980.26L1360.47 1980.58L1385.33 1978.98L1410.19 1976.09L1435.06 1974.81L1459.92 1978.65L1484.78 1977.37L1509.64 1976.41L1534.5 1978.65L1559.37 1977.37L1584.23 1974.81L1609.09 1973.85L1633.95 1974.49L1658.81 1973.53L1683.68 1972.57" fill="none" stroke="#ff0000" stroke-width="2.08" stroke-linejoin="round" />
<path d="M117.37 2158.34L142.23 2164.1L167.09 2163.14L191.96 2160.58L216.82 2160.9L241.68 2161.86L266.54 2160.58L291.4 2162.18L316.27 2159.62L341.13 2162.5L365.99 2165.38L390.85 2161.54L415.71 2161.54L440.58 2162.5L465.44 2159.94L490.3 2160.58L515.16 2162.5L540.02 2160.58L564.89 2163.46L589.75 2160.58L614.61 2157.05L639.47 2157.7L664.33 2161.86L689.2 2159.94L714.06 2161.22L738.92 2158.66L763.78 2155.45L788.64 2152.89L813.51 2150.65L838.37 2151.93L863.23 2151.93L888.09 2148.41L912.95 2150.33L937.82 2153.53L962.68 2150.97L987.54 2151.61L1012.4 2152.25L1037.26 2150.97L1062.13 2151.93L1086.99 2152.89L1111.85 2152.89L1136.71 2154.17L1161.57 2154.81L1186.44 2156.41L1211.3 2158.66L1236.16 2159.94L1261.02 2164.74L1285.88 2165.38L1310.75 2160.58L1335.61 2163.46L1360.47 2163.46L1385.33 2167.94L1410.19 2171.79L1435.06 2165.38L1459.92 2172.43L1484.78 2169.87L1509.64 2175.31L1534.5 2175.63L1559.37 2174.67L1584.23 2179.8L1609.09 2184.92L1633.95 2180.76L1658.81 2170.83L1683.68 2168.91" fill="none" stroke="#008000" stroke-width="2.08" stroke-linejoin="round" />
<path d="M117.37 2119.9L142.23 2135.28L167.09 2126.31L191.96 2127.59L216.82 2129.51L241.68 2128.23L266.54 2119.9L291.4 2123.1L316.27 2122.46L341.13 2125.99L365.99 2123.74L390.85 2124.39L415.71 2121.18L440.58 2121.82L465.44 2121.82L490.3 2121.82L515.16 2122.14L540.02 2122.46L564.89 2124.07L589.75 2123.74L614.61 2119.26L639.47 2121.82L664.33 2124.39L689.2 2122.14L714.06 2119.58L738.92 2120.22L763.78 2121.18L788.64 2120.22L813.51 2121.82L838.37 2120.86L863.23 2122.46L888.09 2124.07L912.95 2128.87L937.82 2129.83L962.68 2130.47L987.54 2127.91L1012.4 2130.79L1037.26 2128.87L1062.13 2129.19L1086.99 2127.91L1111.85 2130.79L1136.71 2131.75L1161.57 2130.79L1186.44 2132.07L1211.3 2131.43L1236.16 2132.07L1261.02 2132.07L1285.88 2134.63L1310.75 2129.51L1335.61 2132.07L1360.47 2130.79L1385.33 2135.92L1410.19 2142.96L1435.06 2147.13L1459.92 2132.39L1484.78 2138.8L1509.64 2139.44L1534.5 2136.88L1559.37 2137.2L1584.23 2138.16L1609.09 2137.84L1633.95 2134.95L1658.81 2146.17L1683.68 2147.45" fill="none" stroke="#0000ff" stroke-width="2.08" stroke-linejoin="round" />
</g>
<path d="M291.5 2194.15v-8.33M291.5 1972.15v8.33M540.5 2194.15v-8.33M540.5 1972.15v8.33M788.5 2194.15v-8.33M788.5 1972.15v8.33M1037.5 2194.15v-8.33M1037.5 1972.15v8.33M1285.5 2194.15v-8.33M1285.5 1972.15v8.33M1534.5 2194.15v-8.33M1534.5 1972.15v8.33" stroke="#000" stroke-width="1.0" fill="none"/>
<text x="291.5" y="2216.35" text-anchor="middle" class="t">12/19 12:53:03</text>
<text x="540.5" y="2216.35" text-anchor="middle" class="t">12/19 12:53:13</text>
<text x="788.5" y="2216.35" text-anchor="middle" class="t">12/19 12:53:23</text>
<text x="1037.5" y="2216.35" text-anchor="middle" class="t">12/19 12:53:33</text>
<text x="1285.5" y="2216.35" text-anchor="middle" class="t">12/19 12:53:43</text>
<text x="1534.5" y="2216.35" text-anchor="middle" class="t">12/19 12:53:53</text>
<path d="M117.1 2194.5h8.33M1683.1 2194.5h-8.33M117.1 2163.5h8.33M1683.1 2163.5h-8.33M117.1 2131.5h8.33M1683.1 2131.5h-8.33M117.1 2099.5h8.33M1683.1 2099.5h-8.33M117.1 2067.5h8.33M1683.1 2067.5h-8.33M117.1 2035.5h8.33M1683.1 2035.5h-8.33M117.1 2004.5h8.33M1683.1 2004.5h-8.33M117.1 1972.5h8.33M1683.1 1972.5h-8.33" stroke="#000" stroke-width="1.0" fill="none"/>
<text x="107.8" y="2199.1" text-anchor="end" class="t">−200</text>
<text x="107.8" y="2168.1" text-anchor="end" class="t">−100</text>
<text x="107.8" y="2136.1" text-anchor="end" class="t">0</text>
<text x="107.8" y="2104.1" text-anchor="end" class="t">100</text>
<text x="107.8" y="2072.1" text-anchor="end" class="t">200</text>
<text x="107.8" y="2040.1" text-anchor="end" class="t">300</text>
<text x="107.8" y="2009.1" text-anchor="end" class="t">400</text>
<text x="107.8" y="1977.1" text-anchor="end" class="t">500</text>
<rect x="117" y="1972" width="1566" height="222" fill="none" stroke="#000" stroke-width="2"/>
<text x="900.1" y="1961.95" text-anchor="middle" class="ti">Solar Wind Velocity (RTN Frame)</text>
<text transform="translate(47.8 2085.75) rotate(-90)" text-anchor="middle" class="t">Vsw(km/s)</text>
<rect x="1604" y="1979" width="72" height="72" fill="#fff" stroke="#000" stroke-width="2"/>
<path d="M1614.31 1992.27H1634.73" stroke="#ff0000" stroke-width="2.08" stroke-linecap="square"/>
<text x="1650.76" y="1997.27" class="l">Vr</text>
<path d="M1614.31 2014.67H1634.73" stroke="#008000" stroke-width="2.08" stroke-linecap="square"/>
<text x="1650.76" y="2019.67" class="l">Vt</text>
<path d="M1614.31 2037.07H1634.73" stroke="#0000ff" stroke-width="2.08" stroke-linecap="square"/>
<text x="1650.76" y="2042.07" class="l">Vn</text>
<clipPath id="c3125"><rect x="117.1" y="2305.75" width="1566" height="222"/></clipPath>
<g clip-path="url(#c3125)">
<path d="M117.37 2520.2L142.23 2466.07L167.09 2497.14L191.96 2517.32L216.82 2521.16L241.68 2465.43L266.54 2465.75L291.4 2487.21L316.27 2494.58L341.13 2463.51L365.99 2451.66L390.85 2501.62L415.71 2496.18L440.58 2515.08L465.44 2495.22L490.3 2475.36L515.16 2504.83L540.02 2482.41L564.89 2497.46L589.75 2443.97L614.61 2516.36L639.47 2509.63L664.33 2523.72L689.2 2469.28L714.06 2474.72L738.92 2477.28L763.78 2484.65L788.64 2502.91L813.51 2502.91L838.37 2499.06L863.23 2508.35L888.09 2501.62L912.95 2499.38L937.82 2506.75L962.68 2485.93L987.54 2471.2L1012.4 2454.22L1037.26 2470.56L1062.13 2508.35L1086.99 2505.15L1111.85 2494.58L1136.71 2456.46L1161.57 2467.03L1186.44 2453.26L1211.3 2493.3L1236.16 2469.28L1261.02 2440.77L1285.88 2457.74L1310.75 2427.96L1335.61 2452.94L1360.47 2481.13L1385.33 2450.38L1410.19 2402.01L1435.06 2405.22L1459.92 2432.76L1484.78 2403.94L1509.64 2325.47L1534.5 2407.14L1559.37 2383.12L1584.23 2353.01L1609.09 2317.14L1633.95 2381.52L1658.81 2379.27L1683.68 2308.17" fill="none" stroke="#0000ff" stroke-width="2.08" stroke-linejoin="round" />
</g>
<path d="M291.5 2527.75v-8.33M291.5 2305.75v8.33M540.5 2527.75v-8.33M540.5 2305.75v8.33M788.5 2527.75v-8.33M788.5 2305.75v8.33M1037.5 2527.75v-8.33M1037.5 2305.75v8.33M1285.5 2527.75v-8.33M1285.5 2305.75v8.33M1534.5 2527.75v-8.33M1534.5 2305.75v8.33" stroke="#000" stroke-width="1.0" fill="none"/>
<text x="291.5" y="2549.95" text-anchor="middle" class="t">12/19 12:53:03</text>
<text x="540.5" y="2549.95" text-anchor="middle" class="t">12/19 12:53:13</text>
<text x="788.5" y="2549.95" text-anchor="middle" class="t">12/19 12:53:23</text>
<text x="1037.5" y="2549.95" text-anchor="middle" class="t">12/19 12:53:33</text>
<text x="1285.5" y="2549.95" text-anchor="middle" class="t">12/19 12:53:43</text>
<text x="1534.5" y="2549.95" text-anchor="middle" class="t">12/19 12:53:53</text>
<path d="M117.1 2527.5h8.33M1683.1 2527.5h-8.33M117.1 2496.5h8.33M1683.1 2496.5h-8.33M117.1 2464.5h8.33M1683.1 2464.5h-8.33M117.1 2433.5h8.33M1683.1 2433.5h-8.33M117.1 2401.5h8.33M1683.1 2401.5h-8.33M117.1 2369.5h8.33M1683.1 2369.5h-8.33M117.1 2337.5h8.33M1683.1 2337.5h-8.33M117.1 2305.5h8.33M1683.1 2305.5h-8.33" stroke="#000" stroke-width="1.0" fill="none"/>
<text x="107.8" y="2532.1" text-anchor="end" class="t">0.05</text>
<text x="107.8" y="2501.1" text-anchor="end" class="t">0.06</text>
<text x="107.8" y="2469.1" text-anchor="end" class="t">0.07</text>
<text x="107.8" y="2438.1" text-anchor="end" class="t">0.08</text>
<text x="107.8" y="2406.1" text-anchor="end" class="t">0.09</text>
<text x="107.8" y="2374.1" text-anchor="end" class="t">0.10</text>
<text x="107.8" y="2342.1" text-anchor="end" class="t">0.11</text>
<text x="107.8" y="2310.1" text-anchor="end" class="t">0.12</text>
<rect x="117" y="2306" width="1566" height="222" fill="none" stroke="#000" stroke-width="2"/>
<text x="900.1" y="2295.55" text-anchor="middle" class="ti">Plasma Beta</text>
<clipPath id="c3459"><rect x="117.1" y="2639.35" width="1566" height="222"/></clipPath>
<g clip-path="url(#c3459)">
<path d="M117.37 2846.8L142.23 2768.97L167.09 2796.51L191.96 2850.64L216.82 2840.39L241.68 2761.92L266.54 2757.44L291.4 2773.77L316.27 2775.69L341.13 2767.68L365.99 2749.11L390.85 2834.3L415.71 2783.06L440.58 2836.87L465.44 2816.05L490.3 2765.44L515.16 2813.49L540.02 2772.17L564.89 2804.84L589.75 2719L614.61 2831.42L639.47 2801.63L664.33 2817.97L689.2 2741.42L714.06 2735.34L738.92 2733.09L763.78 2746.23L788.64 2761.28L813.51 2792.03L838.37 2773.13L863.23 2822.77L888.09 2800.67L912.95 2781.78L937.82 2769.29L962.68 2727.97L987.54 2768.97L1012.4 2734.05L1037.26 2738.22L1062.13 2807.4L1086.99 2825.66L1111.85 2772.17L1136.71 2736.94L1161.57 2734.05L1186.44 2711.31L1211.3 2773.13L1236.16 2777.93L1261.02 2748.47L1285.88 2757.11L1310.75 2654.94L1335.61 2754.23L1360.47 2776.65L1385.33 2742.7L1410.19 2747.51L1435.06 2734.05L1459.92 2719.32L1484.78 2672.88L1509.64 2646.62L1534.5 2772.17L1559.37 2671.92L1584.23 2675.76L1609.09 2686.01L1633.95 2792.03L1658.81 2775.69L1683.68 2797.47" fill="none" stroke="#0000ff" stroke-width="2.08" stroke-linejoin="round" />
</g>
<path d="M291.5 2861.35v-8.33M291.5 2639.35v8.33M540.5 2861.35v-8.33M540.5 2639.35v8.33M788.5 2861.35v-8.33M788.5 2639.35v8.33M1037.5 2861.35v-8.33M1037.5 2639.35v8.33M1285.5 2861.35v-8.33M1285.5 2639.35v8.33M1534.5 2861.35v-8.33M1534.5 2639.35v8.33" stroke="#000" stroke-width="1.0" fill="none"/>
<text x="291.5" y="2883.55" text-anchor="middle" class="t">12/19 12:53:03</text>
<text x="540.5" y="2883.55" text-anchor="middle" class="t">12/19 12:53:13</text>
<text x="788.5" y="2883.55" text-anchor="middle" class="t">12/19 12:53:23</text>
<text x="1037.5" y="2883.55" text-anchor="middle" class="t">12/19 12:53:33</text>
<text x="1285.5" y="2883.55" text-anchor="middle" class="t">12/19 12:53:43</text>
<text x="1534.5" y="2883.55" text-anchor="middle" class="t">12/19 12:53:53</text>
<path d="M117.1 2861.5h8.33M1683.1 2861.5h-8.33M117.1 2834.5h8.33M1683.1 2834.5h-8.33M117.1 2806.5h8.33M1683.1 2806.5h-8.33M117.1 2778.5h8.33M1683.1 2778.5h-8.33M117.1 2750.5h8.33M1683.1 2750.5h-8.33M117.1 2723.5h8.33M1683.1 2723.5h-8.33M117.1 2695.5h8.33M1683.1 2695.5h-8.33M117.1 2667.5h8.33M1683.1 2667.5h-8.33M117.1 2639.5h8.33M1683.1 2639.5h-8.33" stroke="#000" stroke-width="1.0" fill="none"/>
<text x="107.8" y="2866.1" text-anchor="end" class="t">49</text>
<text x="107.8" y="2839.1" text-anchor="end" class="t">50</text>
<text x="107.8" y="2811.1" text-anchor="end" class="t">51</text>
<text x="107.8" y="2783.1" text-anchor="end" class="t">52</text>
<text x="107.8" y="2755.1" text-anchor="end" class="t">53</text>
<text x="107.8" y="2728.1" text-anchor="end" class="t">54</text>
<text x="107.8" y="2700.1" text-anchor="end" class="t">55</text>
<text x="107.8" y="2672.1" text-anchor="end" class="t">56</text>
<text x="107.8" y="2644.1" text-anchor="end" class="t">57</text>
<rect x="117" y="2639" width="1566" height="222" fill="none" stroke="#000" stroke-width="2"/>
<text x="900.1" y="2629.15" text-anchor="middle" class="ti">Proton Number Density</text>
<text transform="translate(73.8 2752.95) rotate(-90)" text-anchor="middle" class="t">Np(#/cc)</text>
<clipPath id="c3792"><rect x="117.1" y="2972.95" width="1566" height="222"/></clipPath>
<g clip-path="url(#c3792)">
<path d="M117.37 3173.11L142.23 3130.83L167.09 3159.34L191.96 3172.47L216.82 3175.03L241.68 3133.39L266.54 3139.8L291.4 3151.97L316.27 3158.7L341.13 3128.59L365.99 3123.78L390.85 3156.77L415.71 3162.22L440.58 3170.87L465.44 3152.93L490.3 3141.72L515.16 3163.18L540.02 3151.97L564.89 3158.05L589.75 3121.86L614.61 3176.31L639.47 3168.3L664.33 3182.72L689.2 3140.44L714.06 3146.2L738.92 3152.93L763.78 3154.53L788.64 3167.98L813.51 3164.46L838.37 3165.42L863.23 3168.62L888.09 3164.46L912.95 3163.18L937.82 3171.51L962.68 3156.45L987.54 3136.28L1012.4 3129.23L1037.26 3146.2L1062.13 3170.23L1086.99 3165.1L1111.85 3156.77L1136.71 3130.83L1161.57 3141.08L1186.44 3133.39L1211.3 3162.54L1236.16 3136.92L1261.02 3114.82L1285.88 3131.15L1310.75 3118.66L1335.61 3124.74L1360.47 3151.33L1385.33 3125.71L1410.19 3083.11L1435.06 3085.35L1459.92 3119.62L1484.78 3097.52L1509.64 3036.03L1534.5 3085.67L1559.37 3079.9L1584.23 3056.84L1609.09 3026.74L1633.95 3071.9L1658.81 3067.09L1683.68 2996.95" fill="none" stroke="#0000ff" stroke-width="2.08" stroke-linejoin="round" />
</g>
<path d="M291.5 3194.95v-8.33M291.5 2972.95v8.33M540.5 3194.95v-8.33M540.5 2972.95v8.33M788.5 3194.95v-8.33M788.5 2972.95v8.33M1037.5 3194.95v-8.33M1037.5 2972.95v8.33M1285.5 3194.95v-8.33M1285.5 2972.95v8.33M1534.5 3194.95v-8.33M1534.5 2972.95v8.33" stroke="#000" stroke-width="1.0" fill="none"/>
<text x="291.5" y="3217.15" text-anchor="middle" class="t">12/19 12:53:03</text>
<text x="540.5" y="3217.15" text-anchor="middle" class="t">12/19 12:53:13</text>
<text x="788.5" y="3217.15" text-anchor="middle" class="t">12/19 12:53:23</text>
<text x="1037.5" y="3217.15" text-anchor="middle" class="t">12/19 12:53:33</text>
<text x="1285.5" y="3217.15" text-anchor="middle" class="t">12/19 12:53:43</text>
<text x="1534.5" y="3217.15" text-anchor="middle" class="t">12/19 12:53:53</text>
<path d="M117.1 3157.5h8.33M1683.1 3157.5h-8.33M117.1 3096.5h8.33M1683.1 3096.5h-8.33M117.1 3034.5h8.33M1683.1 3034.5h-8.33M117.1 2972.5h8.33M1683.1 2972.5h-8.33" stroke="#000" stroke-width="1.0" fill="none"/>
<text x="107.8" y="3162.1" text-anchor="end" class="t">0.15</text>
<text x="107.8" y="3101.1" text-anchor="end" class="t">0.20</text>
<text x="107.8" y="3039.1" text-anchor="end" class="t">0.25</text>
<text x="107.8" y="2977.1" text-anchor="end" class="t">0.30</text>
<rect x="117" y="2973" width="1566" height="222" fill="none" stroke="#000" stroke-width="2"/>
<text transform="translate(53.3 2417.7) rotate(-90)" text-anchor="middle" class="m" font-size="17.5">β<tspan font-size="11" dy="2.6" dx="0.3">p</tspan></text>
<text transform="translate(52.9 3085.3) rotate(-90)" text-anchor="middle" class="t">Tp(<tspan class="mr" font-size="17">10</tspan><tspan class="mr" font-size="12" dy="-6" dx="0.8">6</tspan><tspan dy="6" dx="0.8">K)</tspan></text>
<text x="728.4" y="2961.35" class="ti">Proton Temperature and</text>
<text x="1016.3" y="2961.35" class="m" font-size="22.5">T</text>
<text x="1030.3" y="2964.95" class="m" font-size="16">e</text>
<text x="1039.3" y="2967.95" class="mr" font-size="34">/</text>
<text x="1050.5" y="2961.35" class="m" font-size="22.5">T</text>
<text x="1063.1" y="2964.95" class="m" font-size="16">p</text>
<rect x="124" y="2980" width="71" height="27" fill="#fff" stroke="#000" stroke-width="2"/>
<path d="M134.6 2993.07H155.01" stroke="#0000ff" stroke-width="2.08" stroke-linecap="square"/>
<text x="171.05" y="2998.07" class="l">Tp</text>
</svg>
</body></html>
